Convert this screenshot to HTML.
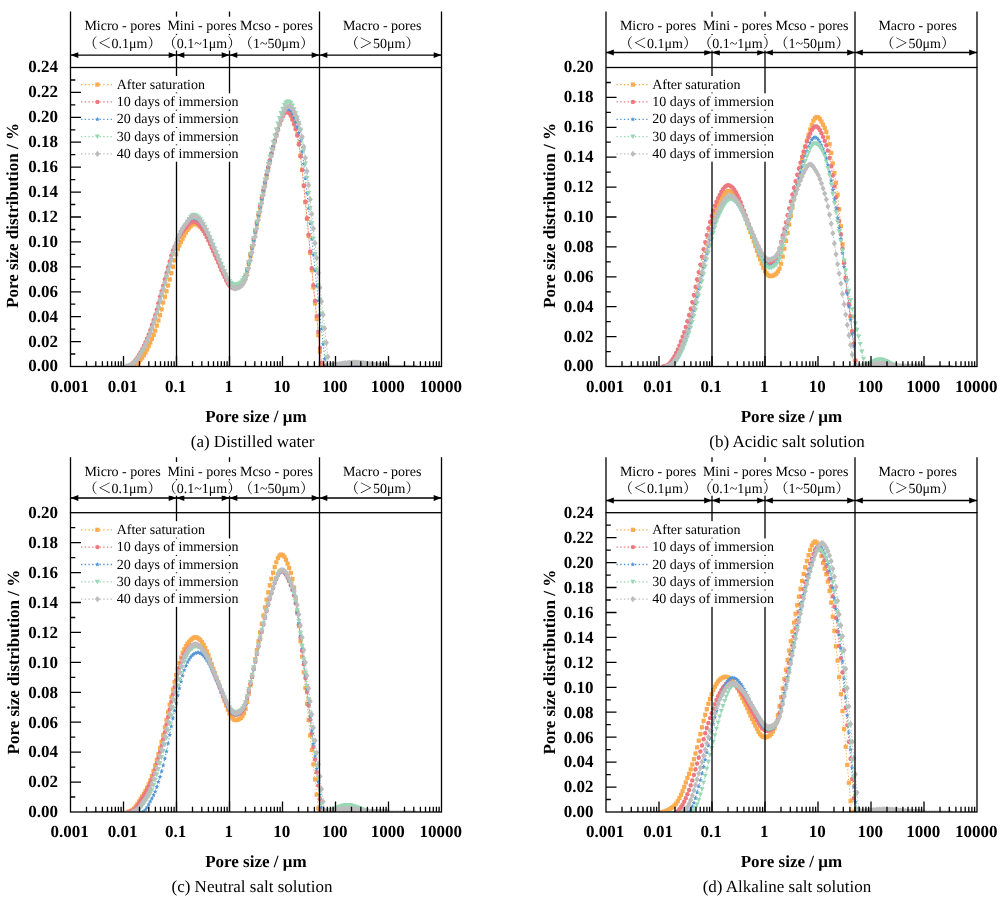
<!DOCTYPE html>
<html lang="en"><head><meta charset="utf-8"><title>Pore size distribution</title>
<style>html,body{margin:0;padding:0;background:#fff}svg{display:block}</style></head>
<body>
<svg width="1007" height="899" viewBox="0 0 1007 899" font-family="'Liberation Serif','Noto Serif CJK SC',serif" text-rendering="geometricPrecision">
<defs>
<marker id="mo" markerUnits="userSpaceOnUse" markerWidth="8" markerHeight="8" refX="4" refY="4" overflow="visible"><rect x="1.9" y="1.9" width="4.2" height="4.2" fill="#FAAC4E"/></marker>
<marker id="mr" markerUnits="userSpaceOnUse" markerWidth="8" markerHeight="8" refX="4" refY="4" overflow="visible"><circle cx="4" cy="4" r="2.2" fill="#EE7880"/></marker>
<marker id="mb" markerUnits="userSpaceOnUse" markerWidth="8" markerHeight="8" refX="4" refY="4" overflow="visible"><polygon points="4.00,1.50 4.65,3.11 6.38,3.23 5.05,4.34 5.47,6.02 4.00,5.10 2.53,6.02 2.95,4.34 1.62,3.23 3.35,3.11" fill="#5595D6"/></marker>
<marker id="mg" markerUnits="userSpaceOnUse" markerWidth="8" markerHeight="8" refX="4" refY="4" overflow="visible"><polygon points="1.4,1.9 6.6,1.9 4,6.5" fill="#99D8B5"/></marker>
<marker id="mk" markerUnits="userSpaceOnUse" markerWidth="8" markerHeight="8" refX="4" refY="4" overflow="visible"><polygon points="4,0.8 6.6,4 4,7.2 1.4,4" fill="#BDBDBD"/></marker>
<path id="ar" d="M0 0L7.8 -2.9L7.8 2.9Z"/>
<clipPath id="cpa"><rect x="70.5" y="67.5" width="371" height="299"/></clipPath>
<clipPath id="cpb"><rect x="606" y="67.5" width="371" height="299"/></clipPath>
<clipPath id="cpc"><rect x="70.5" y="512.7" width="371" height="299.3"/></clipPath>
<clipPath id="cpd"><rect x="606" y="512.7" width="371" height="299.3"/></clipPath>
</defs>
<rect width="1007" height="899" fill="#fff"/>
<g id="chart-a">
<g clip-path="url(#cpa)" fill="none" stroke-width="1" stroke-dasharray="1.3 1.9">
<polyline points="93.8,368.4 95.4,368.4 97,368.4 98.6,368.4 100.3,368.4 101.9,368.4 103.5,368.4 105.1,368.4 106.7,368.4 108.3,368.4 109.9,368.4 111.6,368.4 113.2,368.4 114.8,368.4 116.4,368.4 118,368.4 119.6,368.4 121.3,368.4 122.9,368.4 124.5,368.4 126.1,368.4 127.7,368.4 129.3,368.4 130.9,368.4 132.6,368.4 134.2,366.5 135.8,365.6 137.4,364.1 139,361.9 140.6,359.8 142.2,357.6 143.9,355.1 145.5,352.5 147.1,349.4 148.7,346.1 150.3,342.6 151.9,338.9 153.6,335 155.2,330.6 156.8,325.6 158.4,320.5 160,315.2 161.6,309.3 163.2,302.6 164.9,296.7 166.5,291.2 168.1,285.5 169.7,279.5 171.3,273.2 172.9,266.7 174.6,260.3 176.2,254.3 177.8,249.2 179.4,245.4 181,241.9 182.6,238.7 184.2,235.6 185.9,232.5 187.5,230 189.1,228 190.7,226.1 192.3,224.6 193.9,223.8 195.5,223.9 197.2,224.6 198.8,225.5 200.4,226.9 202,228.8 203.6,231 205.2,233.4 206.8,236.3 208.5,239.4 210.1,242.8 211.7,246.2 213.3,249.7 214.9,253.1 216.5,256.6 218.2,260.2 219.8,263.8 221.4,267.4 223,270.8 224.6,274 226.2,277.3 227.8,280.5 229.5,283.1 231.1,284.8 232.7,286 234.3,286.7 235.9,286.6 237.5,286.1 239.1,285.3 240.8,284.3 242.4,282.5 244,280 245.6,276.5 247.2,270.9 248.8,263.7 250.5,255.9 252.1,248.2 253.7,240.4 255.3,232.2 256.9,224 258.5,215.7 260.1,207.5 261.8,199.3 263.4,191.1 265,183.2 266.6,175.5 268.2,168 269.8,160.8 271.4,153.9 273.1,147.2 274.7,140.9 276.3,135 277.9,129.4 279.5,124.2 281.1,119.7 282.8,115.5 284.4,112.6 286,111 287.6,110.6 289.2,111.9 290.8,114.3 292.4,118.3 294.1,122.8 295.7,128 297.3,134.4 298.9,143.5 300.5,155.5 302.1,169.7 303.8,185.6 305.4,202.2 307,218.9 308.6,235.9 310.2,253 311.8,270.2 313.4,287.4 315.1,303.4 316.7,318.8 318.3,335.1 319.9,351.6 321.5,364.9 323.1,366.3 324.7,366.2 326.4,366.2 328,366.1 329.6,366 331.2,365.9 332.8,365.8 334.4,365.6 336.1,365.5 337.7,365.4 339.3,365.3 340.9,365.1 342.5,365 344.1,364.9 345.7,364.8 347.4,364.7 349,364.7 350.6,364.6 352.2,364.6 353.8,364.6 355.4,364.7 357,364.7 358.7,364.8 360.3,364.9 361.9,365 363.5,365.2 365.1,365.3 366.7,365.4 368.4,365.6 370,365.7 371.6,365.8 373.2,365.9 374.8,366 376.4,366.1 378,366.2 379.7,366.2 381.3,366.3 382.9,366.3 384.5,366.4 386.1,366.4 387.7,366.4 389.3,367.7 391,367.8 392.6,367.8 394.2,367.8 395.8,367.8 397.4,367.8 399,367.8 400.7,367.8 402.3,367.8 403.9,367.8 405.5,367.8 407.1,367.8 408.7,367.8 410.3,367.8 412,367.8 413.6,367.8 415.2,367.8" stroke="#FAAC4E" marker-start="url(#mo)" marker-mid="url(#mo)" marker-end="url(#mo)"/>
<polyline points="93.8,368.4 95.4,368.4 97,368.4 98.6,368.4 100.3,368.4 101.9,368.4 103.5,368.4 105.1,368.4 106.7,368.4 108.3,368.4 109.9,368.4 111.6,368.4 113.2,368.4 114.8,368.4 116.4,368.4 118,368.4 119.6,368.4 121.3,368.4 122.9,368.4 124.5,368.4 126.1,366.5 127.7,366.1 129.3,365.4 130.9,364.6 132.6,363.3 134.2,361.7 135.8,359.8 137.4,357.5 139,354.9 140.6,352.2 142.2,349.1 143.9,345.8 145.5,342.2 147.1,338.6 148.7,334.6 150.3,330.1 151.9,325 153.6,320.1 155.2,315.1 156.8,309.7 158.4,303.2 160,296.6 161.6,291.1 163.2,285.6 164.9,279.2 166.5,272.9 168.1,267.2 169.7,261.5 171.3,255.5 172.9,250.5 174.6,246.7 176.2,243.3 177.8,239.8 179.4,236.7 181,234 182.6,231.6 184.2,229.5 185.9,227.7 187.5,225.8 189.1,224 190.7,222.6 192.3,221.7 193.9,221.6 195.5,222.1 197.2,223 198.8,224.3 200.4,226.2 202,228.4 203.6,230.9 205.2,233.7 206.8,237 208.5,240.5 210.1,244.1 211.7,247.8 213.3,251.4 214.9,255 216.5,258.8 218.2,262.6 219.8,266.5 221.4,270.2 223,273.7 224.6,277.1 226.2,280.5 227.8,283.5 229.5,285.7 231.1,287.1 232.7,288.1 234.3,288.3 235.9,287.9 237.5,287.3 239.1,286.4 240.8,285 242.4,282.8 244,280 245.6,275.5 247.2,269.1 248.8,261.6 250.5,253.8 252.1,246.3 253.7,238.4 255.3,230.3 256.9,222.2 258.5,214 260.1,205.9 261.8,197.8 263.4,189.8 265,182.1 266.6,174.5 268.2,167.2 269.8,160.2 271.4,153.4 273.1,146.8 274.7,140.8 276.3,135 277.9,129.6 279.5,124.6 281.1,120.2 282.8,116.2 284.4,113.6 286,112.1 287.6,112 289.2,113.3 290.8,115.8 292.4,119.8 294.1,124.2 295.7,129.3 297.3,135.6 298.9,144.5 300.5,156.3 302.1,170.1 303.8,185.7 305.4,201.8 307,218.2 308.6,234.7 310.2,251.5 311.8,268.3 313.4,285.2 315.1,301 316.7,316.1 318.3,331.8 319.9,348 321.5,362.6 323.1,366.3 324.7,366.2 326.4,366.2 328,366.1 329.6,366 331.2,365.9 332.8,365.8 334.4,365.6 336.1,365.5 337.7,365.4 339.3,365.3 340.9,365.1 342.5,365 344.1,364.9 345.7,364.8 347.4,364.7 349,364.7 350.6,364.6 352.2,364.6 353.8,364.6 355.4,364.7 357,364.7 358.7,364.8 360.3,364.9 361.9,365 363.5,365.2 365.1,365.3 366.7,365.4 368.4,365.6 370,365.7 371.6,365.8 373.2,365.9 374.8,366 376.4,366.1 378,366.2 379.7,366.2 381.3,366.3 382.9,366.3 384.5,366.4 386.1,366.4 387.7,366.4 389.3,367.7 391,367.8 392.6,367.8 394.2,367.8 395.8,367.8 397.4,367.8 399,367.8 400.7,367.8 402.3,367.8 403.9,367.8 405.5,367.8 407.1,367.8 408.7,367.8 410.3,367.8 412,367.8 413.6,367.8 415.2,367.8" stroke="#EE7880" marker-start="url(#mr)" marker-mid="url(#mr)" marker-end="url(#mr)"/>
<polyline points="93.8,368.4 95.4,368.4 97,368.4 98.6,368.4 100.3,368.4 101.9,368.4 103.5,368.4 105.1,368.4 106.7,368.4 108.3,368.4 109.9,368.4 111.6,368.4 113.2,368.4 114.8,368.4 116.4,368.4 118,368.4 119.6,368.4 121.3,368.4 122.9,368.4 124.5,368.4 126.1,366.5 127.7,366.4 129.3,365.9 130.9,365.2 132.6,364.2 134.2,362.8 135.8,361.2 137.4,359.1 139,356.7 140.6,354.1 142.2,351.3 143.9,348.1 145.5,344.6 147.1,341.1 148.7,337.3 150.3,333.2 151.9,328.5 153.6,323.4 155.2,318.5 156.8,313.5 158.4,307.7 160,301 161.6,294.8 163.2,289.4 164.9,283.6 166.5,277 168.1,271 169.7,265.4 171.3,259.6 172.9,253.9 174.6,248.7 176.2,244 177.8,239.6 179.4,235.3 181,231.9 182.6,228.9 184.2,226.3 185.9,224.4 187.5,222.5 189.1,220.8 190.7,219.4 192.3,218.4 193.9,218.3 195.5,218.8 197.2,219.6 198.8,220.8 200.4,222.6 202,224.8 203.6,227.2 205.2,230 206.8,233.1 208.5,236.6 210.1,240.2 211.7,243.9 213.3,247.6 214.9,251.2 216.5,254.9 218.2,258.7 219.8,262.6 221.4,266.4 223,270 224.6,273.4 226.2,276.9 227.8,280.2 229.5,282.9 231.1,284.6 232.7,285.9 234.3,286.7 235.9,286.6 237.5,286.1 239.1,285.3 240.8,284.3 242.4,282.5 244,280.1 245.6,276.7 247.2,271.2 248.8,264.1 250.5,256.3 252.1,248.6 253.7,240.8 255.3,232.6 256.9,224.4 258.5,216.1 260.1,207.9 261.8,199.7 263.4,191.5 265,183.5 266.6,175.8 268.2,168.2 269.8,160.9 271.4,153.9 273.1,147.2 274.7,140.8 276.3,134.8 277.9,129.1 279.5,123.8 281.1,119.2 282.8,114.9 284.4,111.4 286,109.5 287.6,108.6 289.2,109.4 290.8,111 292.4,113.9 294.1,117.8 295.7,122 297.3,126.9 298.9,132.8 300.5,140.9 302.1,151.6 303.8,164 305.4,178.3 307,193.1 308.6,208.3 310.2,223.6 311.8,239.1 313.4,254.7 315.1,270.4 316.7,286 318.3,300.6 319.9,314.6 321.5,329.1 323.1,344.2 324.7,358.9 326.4,366 328,365.9 329.6,365.8 331.2,365.7 332.8,365.5 334.4,365.4 336.1,365.2 337.7,365 339.3,364.9 340.9,364.7 342.5,364.5 344.1,364.4 345.7,364.2 347.4,364.1 349,364.1 350.6,364 352.2,364 353.8,364 355.4,364.1 357,364.2 358.7,364.3 360.3,364.4 361.9,364.6 363.5,364.7 365.1,364.9 366.7,365.1 368.4,365.2 370,365.4 371.6,365.6 373.2,365.7 374.8,365.8 376.4,366 378,366.1 379.7,366.1 381.3,366.2 382.9,366.3 384.5,366.3 386.1,366.4 387.7,366.4 389.3,367.7 391,367.7 392.6,367.8 394.2,367.8 395.8,367.8 397.4,367.8 399,367.8 400.7,367.8 402.3,367.8 403.9,367.8 405.5,367.8 407.1,367.8 408.7,367.8 410.3,367.8 412,367.8 413.6,367.8 415.2,367.8" stroke="#5595D6" marker-start="url(#mb)" marker-mid="url(#mb)" marker-end="url(#mb)"/>
<polyline points="93.8,368.4 95.4,368.4 97,368.4 98.6,368.4 100.3,368.4 101.9,368.4 103.5,368.4 105.1,368.4 106.7,368.4 108.3,368.4 109.9,368.4 111.6,368.4 113.2,368.4 114.8,368.4 116.4,368.4 118,368.4 119.6,368.4 121.3,368.4 122.9,368.4 124.5,368.4 126.1,368.4 127.7,366.5 129.3,366 130.9,365.3 132.6,364.4 134.2,363 135.8,361.4 137.4,359.4 139,357 140.6,354.4 142.2,351.6 143.9,348.5 145.5,345.1 147.1,341.5 148.7,337.8 150.3,333.8 151.9,329.1 153.6,324.1 155.2,319.1 156.8,314.1 158.4,308.5 160,301.9 161.6,295.5 163.2,290 164.9,284.4 166.5,277.9 168.1,271.7 169.7,266.1 171.3,260.4 172.9,254.6 174.6,249.3 176.2,244.6 177.8,240.1 179.4,235.8 181,232.3 182.6,229.4 184.2,226.8 185.9,224.5 187.5,221.9 189.1,219.2 190.7,216.9 192.3,215.3 193.9,214.9 195.5,215.4 197.2,216.3 198.8,217.5 200.4,219.3 202,221.6 203.6,224.1 205.2,226.9 206.8,230.1 208.5,233.6 210.1,237.3 211.7,241.1 213.3,244.9 214.9,248.6 216.5,252.4 218.2,256.3 219.8,260.3 221.4,264.2 223,267.9 224.6,271.3 226.2,274.9 227.8,278.3 229.5,281.1 231.1,282.9 232.7,284.2 234.3,285 235.9,284.9 237.5,284.3 239.1,283.6 240.8,282.5 242.4,280.7 244,278.2 245.6,274.9 247.2,269.3 248.8,262.2 250.5,254.2 252.1,246.3 253.7,238.4 255.3,230 256.9,221.6 258.5,213.2 260.1,204.7 261.8,196.3 263.4,187.9 265,179.7 266.6,171.8 268.2,164.1 269.8,156.5 271.4,149.3 273.1,142.4 274.7,135.7 276.3,129.6 277.9,123.7 279.5,118.2 281.1,113.2 282.8,108.8 284.4,104.9 286,102.7 287.6,101.5 289.2,101.9 290.8,103.2 292.4,105.6 294.1,109.3 295.7,113.3 297.3,117.8 298.9,123.1 300.5,129.8 302.1,139.2 303.8,150.5 305.4,163.7 307,178.1 308.6,193 310.2,208 311.8,223.3 313.4,238.7 315.1,254.1 316.7,269.7 318.3,285.2 319.9,299.6 321.5,313.5 323.1,327.8 324.7,342.8 326.4,357.4 328,365.9 329.6,365.8 331.2,365.6 332.8,365.4 334.4,365.2 336.1,365 337.7,364.8 339.3,364.5 340.9,364.3 342.5,364 344.1,363.7 345.7,363.5 347.4,363.3 349,363.1 350.6,362.9 352.2,362.8 353.8,362.8 355.4,362.8 357,362.8 358.7,362.9 360.3,363 361.9,363.2 363.5,363.4 365.1,363.6 366.7,363.9 368.4,364.1 370,364.4 371.6,364.6 373.2,364.9 374.8,365.1 376.4,365.3 378,365.5 379.7,365.7 381.3,365.9 382.9,366 384.5,366.1 386.1,366.2 387.7,366.3 389.3,367.6 391,367.7 392.6,367.7 394.2,367.7 395.8,367.7 397.4,367.8 399,367.8 400.7,367.8 402.3,367.8 403.9,367.8 405.5,367.8 407.1,367.8 408.7,367.8 410.3,367.8 412,367.8 413.6,367.8 415.2,367.8" stroke="#99D8B5" marker-start="url(#mg)" marker-mid="url(#mg)" marker-end="url(#mg)"/>
<polyline points="93.8,368.4 95.4,368.4 97,368.4 98.6,368.4 100.3,368.4 101.9,368.4 103.5,368.4 105.1,368.4 106.7,368.4 108.3,368.4 109.9,368.4 111.6,368.4 113.2,368.4 114.8,368.4 116.4,368.4 118,368.4 119.6,368.4 121.3,368.4 122.9,368.4 124.5,368.4 126.1,366.5 127.7,366.4 129.3,365.8 130.9,365 132.6,364 134.2,362.5 135.8,360.8 137.4,358.7 139,356.2 140.6,353.6 142.2,350.7 143.9,347.4 145.5,344 147.1,340.4 148.7,336.6 150.3,332.4 151.9,327.6 153.6,322.5 155.2,317.6 156.8,312.5 158.4,306.5 160,299.8 161.6,293.8 163.2,288.4 164.9,282.4 166.5,275.9 168.1,270 169.7,264.3 171.3,258.6 172.9,252.9 174.6,247.8 176.2,243.2 177.8,238.7 179.4,234.6 181,231.3 182.6,228.5 184.2,226 185.9,223.9 187.5,221.7 189.1,219.6 190.7,217.9 192.3,216.8 193.9,216.5 195.5,217.1 197.2,217.9 198.8,219.1 200.4,221 202,223.2 203.6,225.7 205.2,228.5 206.8,231.8 208.5,235.3 210.1,239 211.7,242.9 213.3,246.7 214.9,250.5 216.5,254.3 218.2,258.2 219.8,262.2 221.4,266.2 223,270 224.6,273.5 226.2,277.1 227.8,280.7 229.5,283.7 231.1,285.7 232.7,287.2 234.3,288.2 235.9,288.3 237.5,287.9 239.1,287.2 240.8,286.3 242.4,284.8 244,282.5 245.6,279.6 247.2,274.9 248.8,268.2 250.5,260.5 252.1,252.6 253.7,244.9 255.3,236.7 256.9,228.4 258.5,220 260.1,211.7 261.8,203.3 263.4,195 265,186.8 266.6,178.8 268.2,171.1 269.8,163.6 271.4,156.3 273.1,149.3 274.7,142.6 276.3,136.3 277.9,130.4 279.5,124.7 281.1,119.6 282.8,115.1 284.4,110.9 286,108 287.6,106.4 289.2,106 290.8,107 292.4,108.6 294.1,111.7 295.7,115.4 297.3,119.4 298.9,124 300.5,129.6 302.1,136.8 303.8,146.7 305.4,157.9 307,171.2 308.6,185 310.2,199.4 311.8,213.9 313.4,228.5 315.1,243.2 316.7,258 318.3,273 319.9,287.7 321.5,301.4 323.1,314.7 324.7,328.4 326.4,342.7 328,356.8 329.6,365.4 331.2,365.3 332.8,365.1 334.4,364.9 336.1,364.6 337.7,364.4 339.3,364.2 340.9,364 342.5,363.7 344.1,363.5 345.7,363.3 347.4,363.2 349,363 350.6,362.9 352.2,362.8 353.8,362.8 355.4,362.8 357,362.8 358.7,362.9 360.3,363 361.9,363.1 363.5,363.3 365.1,363.4 366.7,363.6 368.4,363.9 370,364.1 371.6,364.3 373.2,364.5 374.8,364.8 376.4,365 378,365.2 379.7,365.4 381.3,365.5 382.9,365.7 384.5,365.8 386.1,365.9 387.7,366 389.3,367.4 391,367.5 392.6,367.6 394.2,367.6 395.8,367.7 397.4,367.7 399,367.7 400.7,367.7 402.3,367.8 403.9,367.8 405.5,367.8 407.1,367.8 408.7,367.8 410.3,367.8 412,367.8 413.6,367.8 415.2,367.8" stroke="#BDBDBD" marker-start="url(#mk)" marker-mid="url(#mk)" marker-end="url(#mk)"/>
</g>
<g stroke="#000" stroke-width="1.3" fill="none">
<rect x="70.5" y="67.5" width="371" height="299"/>
<path d="M123.5 366.5v-10.5M176.5 366.5v-10.5M229.5 366.5v-10.5M282.5 366.5v-10.5M335.5 366.5v-10.5M388.5 366.5v-10.5M86.5 366.5v-5.3M95.8 366.5v-5.3M102.4 366.5v-5.3M107.5 366.5v-5.3M111.7 366.5v-5.3M115.3 366.5v-5.3M118.4 366.5v-5.3M121.1 366.5v-5.3M139.5 366.5v-5.3M148.8 366.5v-5.3M155.4 366.5v-5.3M160.5 366.5v-5.3M164.7 366.5v-5.3M168.3 366.5v-5.3M171.4 366.5v-5.3M174.1 366.5v-5.3M192.5 366.5v-5.3M201.8 366.5v-5.3M208.4 366.5v-5.3M213.5 366.5v-5.3M217.7 366.5v-5.3M221.3 366.5v-5.3M224.4 366.5v-5.3M227.1 366.5v-5.3M245.5 366.5v-5.3M254.8 366.5v-5.3M261.4 366.5v-5.3M266.5 366.5v-5.3M270.7 366.5v-5.3M274.3 366.5v-5.3M277.4 366.5v-5.3M280.1 366.5v-5.3M298.5 366.5v-5.3M307.8 366.5v-5.3M314.4 366.5v-5.3M319.5 366.5v-5.3M323.7 366.5v-5.3M327.3 366.5v-5.3M330.4 366.5v-5.3M333.1 366.5v-5.3M351.5 366.5v-5.3M360.8 366.5v-5.3M367.4 366.5v-5.3M372.5 366.5v-5.3M376.7 366.5v-5.3M380.3 366.5v-5.3M383.4 366.5v-5.3M386.1 366.5v-5.3M404.5 366.5v-5.3M413.8 366.5v-5.3M420.4 366.5v-5.3M425.5 366.5v-5.3M429.7 366.5v-5.3M433.3 366.5v-5.3M436.4 366.5v-5.3M439.1 366.5v-5.3M70.5 354h4.8M70.5 341.6h10.5M70.5 329.1h4.8M70.5 316.7h10.5M70.5 304.2h4.8M70.5 291.8h10.5M70.5 279.3h4.8M70.5 266.8h10.5M70.5 254.4h4.8M70.5 241.9h10.5M70.5 229.5h4.8M70.5 217h10.5M70.5 204.5h4.8M70.5 192.1h10.5M70.5 179.6h4.8M70.5 167.2h10.5M70.5 154.7h4.8M70.5 142.2h10.5M70.5 129.8h4.8M70.5 117.3h10.5M70.5 104.9h4.8M70.5 92.4h10.5M70.5 80h4.8"/>
</g>
<g stroke="#000" stroke-width="1.3">
<line x1="70.5" y1="11.5" x2="70.5" y2="67.5"/>
<line x1="176.5" y1="11.5" x2="176.5" y2="366.5"/>
<line x1="229.5" y1="11.5" x2="229.5" y2="366.5"/>
<line x1="319.5" y1="11.5" x2="319.5" y2="366.5"/>
<line x1="441.5" y1="11.5" x2="441.5" y2="67.5"/>
<line x1="70.5" y1="55.1" x2="441.5" y2="55.1"/>
</g>
<use href="#ar" x="70.5" y="55.1"/>
<use href="#ar" transform="translate(176.5 55.1) scale(-1 1)"/>
<use href="#ar" x="176.5" y="55.1"/>
<use href="#ar" transform="translate(229.5 55.1) scale(-1 1)"/>
<use href="#ar" x="229.5" y="55.1"/>
<use href="#ar" transform="translate(319.5 55.1) scale(-1 1)"/>
<use href="#ar" x="319.5" y="55.1"/>
<use href="#ar" transform="translate(441.5 55.1) scale(-1 1)"/>
<rect x="84.2" y="16.7" width="76.5" height="17.2" fill="#fff"/>
<rect x="90.2" y="35.1" width="64.5" height="15.4" fill="#fff"/>
<text x="122.5" y="30.3" font-size="14" text-anchor="middle">Micro - pores</text>
<text x="122.5" y="47.6" font-size="14" text-anchor="middle">（＜0.1μm）</text>
<rect x="167.2" y="16.7" width="69.6" height="17.2" fill="#fff"/>
<rect x="168.2" y="35.1" width="67.6" height="15.4" fill="#fff"/>
<text x="202" y="30.3" font-size="14" text-anchor="middle">Mini - pores</text>
<text x="202" y="47.6" font-size="14" text-anchor="middle">（0.1~1μm）</text>
<rect x="239.5" y="16.7" width="74" height="17.2" fill="#fff"/>
<rect x="243" y="35.1" width="67" height="15.4" fill="#fff"/>
<text x="276.5" y="30.3" font-size="14" text-anchor="middle">Mcso - pores</text>
<text x="276.5" y="47.6" font-size="14" text-anchor="middle">（1~50μm）</text>
<rect x="342.2" y="16.7" width="80" height="17.2" fill="#fff"/>
<rect x="350" y="35.1" width="64.5" height="15.4" fill="#fff"/>
<text x="382.2" y="30.3" font-size="14" text-anchor="middle">Macro - pores</text>
<text x="382.2" y="47.6" font-size="14" text-anchor="middle">（＞50μm）</text>
<rect x="116.2" y="76" width="89" height="16.4" fill="#fff"/>
<polyline points="81,84.6 97.4,84.6 112.5,84.6" fill="none" stroke="#FAAC4E" stroke-width="1.3" stroke-dasharray="1.4 2.3" marker-mid="url(#mo)"/>
<text x="116.7" y="88.7" font-size="14">After saturation</text>
<rect x="116.2" y="93.3" width="121" height="16.4" fill="#fff"/>
<polyline points="81,101.9 97.4,101.9 112.5,101.9" fill="none" stroke="#EE7880" stroke-width="1.3" stroke-dasharray="1.4 2.3" marker-mid="url(#mr)"/>
<text x="116.7" y="106" font-size="14">10 days of immersion</text>
<rect x="116.2" y="110.7" width="121" height="16.4" fill="#fff"/>
<polyline points="81,119.3 97.4,119.3 112.5,119.3" fill="none" stroke="#5595D6" stroke-width="1.3" stroke-dasharray="1.4 2.3" marker-mid="url(#mb)"/>
<text x="116.7" y="123.4" font-size="14">20 days of immersion</text>
<rect x="116.2" y="128" width="121" height="16.4" fill="#fff"/>
<polyline points="81,136.6 97.4,136.6 112.5,136.6" fill="none" stroke="#99D8B5" stroke-width="1.3" stroke-dasharray="1.4 2.3" marker-mid="url(#mg)"/>
<text x="116.7" y="140.7" font-size="14">30 days of immersion</text>
<rect x="116.2" y="145.3" width="121" height="16.4" fill="#fff"/>
<polyline points="81,153.9 97.4,153.9 112.5,153.9" fill="none" stroke="#BDBDBD" stroke-width="1.3" stroke-dasharray="1.4 2.3" marker-mid="url(#mk)"/>
<text x="116.7" y="158" font-size="14">40 days of immersion</text>
<g font-size="17" font-weight="bold" text-anchor="end">
<text x="58" y="371.4">0.00</text>
<text x="58" y="346.5">0.02</text>
<text x="58" y="321.6">0.04</text>
<text x="58" y="296.6">0.06</text>
<text x="58" y="271.7">0.08</text>
<text x="58" y="246.8">0.10</text>
<text x="58" y="221.9">0.12</text>
<text x="58" y="197">0.14</text>
<text x="58" y="172.1">0.16</text>
<text x="58" y="147.1">0.18</text>
<text x="58" y="122.2">0.20</text>
<text x="58" y="97.3">0.22</text>
<text x="58" y="72.4">0.24</text>
</g>
<g font-size="17" font-weight="bold" text-anchor="middle">
<text x="69.7" y="391.7">0.001</text>
<text x="122.7" y="391.7">0.01</text>
<text x="175.7" y="391.7">0.1</text>
<text x="228.7" y="391.7">1</text>
<text x="281.7" y="391.7">10</text>
<text x="334.7" y="391.7">100</text>
<text x="387.7" y="391.7">1000</text>
<text x="440.7" y="391.7">10000</text>
</g>
<text x="255.9" y="421.7" font-size="17" font-weight="bold" text-anchor="middle">Pore size / μm</text>
<text transform="translate(18.2 215.5) rotate(-90)" font-size="17" font-weight="bold" text-anchor="middle">Pore size distribution / %</text>
<text x="252.6" y="446.7" font-size="17" text-anchor="middle">(a) Distilled water</text>
</g>
<g id="chart-b">
<g clip-path="url(#cpb)" fill="none" stroke-width="1" stroke-dasharray="1.3 1.9">
<polyline points="629.3,368.4 630.9,368.4 632.5,368.4 634.1,368.4 635.8,368.4 637.4,368.4 639,368.4 640.6,368.4 642.2,368.4 643.8,368.4 645.4,368.4 647.1,368.4 648.7,368.4 650.3,368.4 651.9,368.4 653.5,368.4 655.1,368.4 656.8,368.4 658.4,368.4 660,368.4 661.6,368.4 663.2,368.4 664.8,366.5 666.4,366.4 668.1,365.8 669.7,365 671.3,363.7 672.9,361.7 674.5,359.5 676.1,356.7 677.8,353.6 679.4,350.1 681,346.2 682.6,342 684.2,337.5 685.8,332.9 687.4,327.8 689.1,322.1 690.7,315.9 692.3,309.6 693.9,303 695.5,295.6 697.1,287.7 698.7,280.3 700.4,273.2 702,265.5 703.6,257.8 705.2,250.6 706.8,243.6 708.4,236.7 710,230.1 711.7,223.9 713.3,218.3 714.9,213.1 716.5,208.8 718.1,205.1 719.7,201.7 721.4,198.7 723,195.8 724.6,193.6 726.2,192.1 727.8,191.1 729.4,191 731,191.8 732.7,193 734.3,194.6 735.9,197 737.5,199.8 739.1,202.8 740.7,206.2 742.3,210.2 744,214.4 745.6,218.8 747.2,223.4 748.8,227.9 750.4,232.2 752,236.8 753.7,241.4 755.3,246.2 756.9,250.8 758.5,255.2 760.1,259.3 761.7,263.6 763.3,267.7 765,271.1 766.6,273.3 768.2,275 769.8,276 771.4,276.1 773,275.6 774.6,274.8 776.3,273.6 777.9,271.5 779.5,268.6 781.1,263.7 782.7,256.7 784.3,248.7 786,241 787.6,232.9 789.2,224.5 790.8,216.1 792.4,207.7 794,199.3 795.6,191 797.3,182.9 798.9,175.1 800.5,167.5 802.1,160.2 803.7,153.2 805.3,146.6 806.9,140.5 808.6,134.7 810.2,129.4 811.8,124.8 813.4,120.7 815,118.3 816.6,117 818.3,117.4 819.9,119.1 821.5,121.6 823.1,124.6 824.7,127.9 826.3,132 827.9,137.5 829.6,144.2 831.2,153 832.8,163.4 834.4,173 836,182.6 837.6,194.7 839.2,209.3 840.9,226.3 842.5,244.3 844.1,262 845.7,277.8 847.3,291.5 848.9,304.2 850.6,316.5 852.2,331.5 853.8,344 855.4,360.6 857,366.5 858.6,366.5 860.2,366.4 861.9,366.4 863.5,366.3 865.1,366.2 866.7,366.1 868.3,366 869.9,365.8 871.5,365.6 873.2,365.5 874.8,365.3 876.4,365.1 878,365.1 879.6,365 881.2,365 882.9,365.1 884.5,365.2 886.1,365.4 887.7,365.6 889.3,365.7 890.9,365.9 892.5,366.1 894.2,366.2 895.8,366.3 897.4,366.4 899,366.4 900.6,366.4 902.2,366.5 903.8,366.5 905.5,366.5 907.1,366.5 908.7,366.5 910.3,366.5 911.9,366.5 913.5,366.5 915.2,366.5 916.8,366.5 918.4,366.5 920,366.5 921.6,366.5 923.2,366.5 924.8,367.8 926.5,367.8 928.1,367.8 929.7,367.8 931.3,367.8 932.9,367.8 934.5,367.8 936.1,367.8 937.8,367.8 939.4,367.8 941,367.8 942.6,367.8 944.2,367.8 945.8,367.8 947.5,367.8 949.1,367.8 950.7,367.8" stroke="#FAAC4E" marker-start="url(#mo)" marker-mid="url(#mo)" marker-end="url(#mo)"/>
<polyline points="629.3,368.4 630.9,368.4 632.5,368.4 634.1,368.4 635.8,368.4 637.4,368.4 639,368.4 640.6,368.4 642.2,368.4 643.8,368.4 645.4,368.4 647.1,368.4 648.7,368.4 650.3,368.4 651.9,368.4 653.5,368.4 655.1,368.4 656.8,368.4 658.4,368.4 660,368.4 661.6,368.4 663.2,366.5 664.8,366.3 666.4,365.7 668.1,364.8 669.7,363.3 671.3,361.3 672.9,359 674.5,356.2 676.1,352.9 677.8,349.5 679.4,345.5 681,341.2 682.6,336.7 684.2,332.1 685.8,327 687.4,321.3 689.1,315 690.7,308.7 692.3,302.1 693.9,294.9 695.5,286.9 697.1,279.3 698.7,272.1 700.4,264.6 702,256.6 703.6,249.2 705.2,242.1 706.8,235.1 708.4,228.3 710,221.9 711.7,215.9 713.3,210.5 714.9,205.7 716.5,201.7 718.1,198.1 719.7,194.9 721.4,191.8 723,189.1 724.6,187.3 726.2,185.9 727.8,185.1 729.4,185.4 731,186.4 732.7,187.6 734.3,189.7 735.9,192.3 737.5,195.2 739.1,198.5 740.7,202.3 742.3,206.4 744,210.8 745.6,215.2 747.2,219.6 748.8,224 750.4,228.5 752,233.1 753.7,237.7 755.3,242.2 756.9,246.3 758.5,250.4 760.1,254.6 761.7,258.1 763.3,260.5 765,262.1 766.6,263.2 768.2,263.2 769.8,262.8 771.4,262.2 773,261.2 774.6,259.6 776.3,257.4 777.9,253.8 779.5,248.4 781.1,242 782.7,235.5 784.3,229 786,222.2 787.6,215.3 789.2,208.4 790.8,201.4 792.4,194.5 794,187.7 795.6,181.1 797.3,174.7 798.9,168.5 800.5,162.6 802.1,156.8 803.7,151.4 805.3,146.4 806.9,141.6 808.6,137.2 810.2,133.4 811.8,129.9 813.4,127.7 815,126.4 816.6,126.5 818.3,127.8 819.9,130.1 821.5,133.2 823.1,136.9 824.7,140.9 826.3,145.2 827.9,150.6 829.6,157.9 831.2,166.4 832.8,175.6 834.4,186.4 836,197.4 837.6,208.6 839.2,220.9 840.9,234.3 842.5,248.5 844.1,263.2 845.7,277.9 847.3,291.4 848.9,304.2 850.6,316.5 852.2,331.5 853.8,344 855.4,360.6 857,366.5 858.6,366.5 860.2,366.4 861.9,366.4 863.5,366.3 865.1,366.2 866.7,366.1 868.3,366 869.9,365.8 871.5,365.6 873.2,365.5 874.8,365.3 876.4,365.1 878,365.1 879.6,365 881.2,365 882.9,365.1 884.5,365.2 886.1,365.4 887.7,365.6 889.3,365.7 890.9,365.9 892.5,366.1 894.2,366.2 895.8,366.3 897.4,366.4 899,366.4 900.6,366.4 902.2,366.5 903.8,366.5 905.5,366.5 907.1,366.5 908.7,366.5 910.3,366.5 911.9,366.5 913.5,366.5 915.2,366.5 916.8,366.5 918.4,366.5 920,366.5 921.6,366.5 923.2,366.5 924.8,367.8 926.5,367.8 928.1,367.8 929.7,367.8 931.3,367.8 932.9,367.8 934.5,367.8 936.1,367.8 937.8,367.8 939.4,367.8 941,367.8 942.6,367.8 944.2,367.8 945.8,367.8 947.5,367.8 949.1,367.8 950.7,367.8" stroke="#EE7880" marker-start="url(#mr)" marker-mid="url(#mr)" marker-end="url(#mr)"/>
<polyline points="629.3,368.4 630.9,368.4 632.5,368.4 634.1,368.4 635.8,368.4 637.4,368.4 639,368.4 640.6,368.4 642.2,368.4 643.8,368.4 645.4,368.4 647.1,368.4 648.7,368.4 650.3,368.4 651.9,368.4 653.5,368.4 655.1,368.4 656.8,368.4 658.4,368.4 660,368.4 661.6,368.4 663.2,368.4 664.8,368.4 666.4,366.5 668.1,366.4 669.7,365.8 671.3,365 672.9,363.6 674.5,361.7 676.1,359.5 677.8,356.7 679.4,353.6 681,350.3 682.6,346.4 684.2,342.2 685.8,337.9 687.4,333.4 689.1,328.3 690.7,322.7 692.3,316.7 693.9,310.5 695.5,304 697.1,296.7 698.7,289 700.4,282 702,275 703.6,267.4 705.2,260.1 706.8,253.2 708.4,246.4 710,239.8 711.7,233.5 713.3,227.7 714.9,222.4 716.5,217.6 718.1,213.6 719.7,210.1 721.4,207 723,204.1 724.6,201.5 726.2,199.7 727.8,198.4 729.4,197.6 731,198 732.7,198.8 734.3,199.9 735.9,201.6 737.5,203.8 739.1,206.3 740.7,209.1 742.3,212.3 744,215.8 745.6,219.5 747.2,223.3 748.8,227.1 750.4,230.8 752,234.6 753.7,238.5 755.3,242.5 756.9,246.4 758.5,250.1 760.1,253.5 761.7,257.1 763.3,260.4 765,263 766.6,264.6 768.2,265.8 769.8,266.3 771.4,266 773,265.5 774.6,264.7 776.3,263.2 777.9,261.1 779.5,257.8 781.1,252.4 782.7,245.9 784.3,239.3 786,232.8 787.6,225.8 789.2,218.8 790.8,211.8 792.4,204.9 794,197.9 795.6,191.1 797.3,184.6 798.9,178.3 800.5,172.2 802.1,166.4 803.7,160.9 805.3,155.8 806.9,151 808.6,146.7 810.2,142.9 811.8,139.7 813.4,137.9 815,137.1 816.6,137.9 818.3,139.7 819.9,142.2 821.5,145.3 823.1,148.7 824.7,152.6 826.3,158.3 827.9,164.9 829.6,172.1 831.2,180.6 832.8,189.8 834.4,198.9 836,208.2 837.6,217.8 839.2,227.8 840.9,239 842.5,252.9 844.1,266.9 845.7,280.6 847.3,293.7 848.9,306.7 850.6,319.9 852.2,334 853.8,346.5 855.4,363.9 857,366.5 858.6,366.4 860.2,366.4 861.9,366.3 863.5,366.1 865.1,366 866.7,365.7 868.3,365.5 869.9,365.1 871.5,364.8 873.2,364.4 874.8,364.1 876.4,363.8 878,363.6 879.6,363.5 881.2,363.5 882.9,363.7 884.5,363.9 886.1,364.3 887.7,364.6 889.3,365 890.9,365.3 892.5,365.6 894.2,365.9 895.8,366.1 897.4,366.2 899,366.3 900.6,366.4 902.2,366.4 903.8,366.5 905.5,366.5 907.1,366.5 908.7,366.5 910.3,366.5 911.9,366.5 913.5,366.5 915.2,366.5 916.8,366.5 918.4,366.5 920,366.5 921.6,366.5 923.2,366.5 924.8,367.8 926.5,367.8 928.1,367.8 929.7,367.8 931.3,367.8 932.9,367.8 934.5,367.8 936.1,367.8 937.8,367.8 939.4,367.8 941,367.8 942.6,367.8 944.2,367.8 945.8,367.8 947.5,367.8 949.1,367.8 950.7,367.8" stroke="#5595D6" marker-start="url(#mb)" marker-mid="url(#mb)" marker-end="url(#mb)"/>
<polyline points="629.3,368.4 630.9,368.4 632.5,368.4 634.1,368.4 635.8,368.4 637.4,368.4 639,368.4 640.6,368.4 642.2,368.4 643.8,368.4 645.4,368.4 647.1,368.4 648.7,368.4 650.3,368.4 651.9,368.4 653.5,368.4 655.1,368.4 656.8,368.4 658.4,368.4 660,368.4 661.6,368.4 663.2,368.4 664.8,368.4 666.4,368.4 668.1,366.5 669.7,366.3 671.3,365.7 672.9,364.9 674.5,363.5 676.1,361.6 677.8,359.3 679.4,356.5 681,353.4 682.6,350 684.2,346.1 685.8,341.9 687.4,337.5 689.1,332.9 690.7,327.8 692.3,322.1 693.9,316.1 695.5,309.9 697.1,303.3 698.7,295.8 700.4,288.3 702,281.4 703.6,274.3 705.2,266.7 706.8,259.5 708.4,252.7 710,245.9 711.7,239.4 713.3,233.2 714.9,227.5 716.5,222.3 718.1,217.8 719.7,214 721.4,210.6 723,207.6 724.6,204.7 726.2,202.3 727.8,200.7 729.4,199.6 731,199.1 732.7,199.7 734.3,200.7 735.9,202.1 737.5,204.2 739.1,206.7 740.7,209.4 742.3,212.5 744,216.1 745.6,219.9 747.2,223.9 748.8,227.9 750.4,231.7 752,235.7 753.7,239.8 755.3,243.9 756.9,248 758.5,251.8 760.1,255.4 761.7,259.2 763.3,262.5 765,265 766.6,266.6 768.2,267.7 769.8,267.9 771.4,267.6 773,267 774.6,266.1 776.3,264.5 777.9,262.3 779.5,258.6 781.1,253.2 782.7,246.9 784.3,240.7 786,234.3 787.6,227.7 789.2,221 790.8,214.3 792.4,207.7 794,201.1 795.6,194.6 797.3,188.4 798.9,182.4 800.5,176.7 802.1,171.1 803.7,165.9 805.3,161.1 806.9,156.6 808.6,152.5 810.2,148.9 811.8,145.8 813.4,144.2 815,143.4 816.6,144 818.3,145.3 819.9,147.3 821.5,149.7 823.1,152.4 824.7,156 826.3,161.6 827.9,168.2 829.6,175.5 831.2,184.7 832.8,194.1 834.4,203.1 836,212.2 837.6,221.8 839.2,231.5 840.9,241 842.5,250.7 844.1,260.5 845.7,270.6 847.3,280.9 848.9,290.9 850.6,300.4 852.2,309.3 853.8,316.9 855.4,323.6 857,329.9 858.6,336.7 860.2,344 861.9,351.7 863.5,358.8 865.1,364.8 866.7,364.7 868.3,364.1 869.9,363.3 871.5,362.5 873.2,361.6 874.8,360.8 876.4,360.2 878,359.7 879.6,359.5 881.2,359.6 882.9,359.9 884.5,360.5 886.1,361.2 887.7,362.1 889.3,362.9 890.9,363.7 892.5,364.4 894.2,365 895.8,365.5 897.4,365.8 899,366.1 900.6,366.2 902.2,366.4 903.8,366.4 905.5,366.5 907.1,366.5 908.7,366.5 910.3,366.5 911.9,366.5 913.5,366.5 915.2,366.5 916.8,366.5 918.4,366.5 920,366.5 921.6,366.5 923.2,366.5 924.8,367.8 926.5,367.8 928.1,367.8 929.7,367.8 931.3,367.8 932.9,367.8 934.5,367.8 936.1,367.8 937.8,367.8 939.4,367.8 941,367.8 942.6,367.8 944.2,367.8 945.8,367.8 947.5,367.8 949.1,367.8 950.7,367.8" stroke="#99D8B5" marker-start="url(#mg)" marker-mid="url(#mg)" marker-end="url(#mg)"/>
<polyline points="629.3,368.4 630.9,368.4 632.5,368.4 634.1,368.4 635.8,368.4 637.4,368.4 639,368.4 640.6,368.4 642.2,368.4 643.8,368.4 645.4,368.4 647.1,368.4 648.7,368.4 650.3,368.4 651.9,368.4 653.5,368.4 655.1,368.4 656.8,368.4 658.4,368.4 660,368.4 661.6,368.4 663.2,368.4 664.8,368.4 666.4,366.5 668.1,366.1 669.7,365.3 671.3,364.3 672.9,362.5 674.5,360.5 676.1,358 677.8,355.1 679.4,351.9 681,348.3 682.6,344.3 684.2,340 685.8,335.6 687.4,330.9 689.1,325.7 690.7,319.8 692.3,313.8 693.9,307.6 695.5,300.9 697.1,293.3 698.7,285.9 700.4,279 702,271.9 703.6,264.3 705.2,257.1 706.8,250.3 708.4,243.5 710,237 711.7,230.8 713.3,225.1 714.9,219.8 716.5,215.2 718.1,211.3 719.7,207.9 721.4,204.8 723,201.9 724.6,199.3 726.2,197.6 727.8,196.3 729.4,195.5 731,195.9 732.7,196.6 734.3,197.7 735.9,199.4 737.5,201.6 739.1,204 740.7,206.7 742.3,209.9 744,213.3 745.6,216.9 747.2,220.5 748.8,224.1 750.4,227.7 752,231.4 753.7,235.2 755.3,239 756.9,242.6 758.5,246 760.1,249.4 761.7,252.8 763.3,255.6 765,257.5 766.6,258.8 768.2,259.7 769.8,259.6 771.4,259.2 773,258.6 774.6,257.5 776.3,255.8 777.9,253 779.5,248.4 781.1,243.1 782.7,237.9 784.3,232.4 786,226.9 787.6,221.2 789.2,215.6 790.8,210 792.4,204.5 794,199.3 795.6,194.2 797.3,189.4 798.9,184.7 800.5,180.4 802.1,176.5 803.7,172.8 805.3,169.6 806.9,166.8 808.6,165.1 810.2,164.4 811.8,165.1 813.4,166.9 815,169.4 816.6,172.1 818.3,175.1 819.9,179 821.5,183.5 823.1,188.4 824.7,193.6 826.3,199.4 827.9,206.4 829.6,214.8 831.2,223.8 832.8,233.3 834.4,243.5 836,254.2 837.6,264.1 839.2,273.6 840.9,283.6 842.5,294 844.1,304.3 845.7,314.6 847.3,325 848.9,335.4 850.6,345 852.2,354.7 853.8,366.4 855.4,366.5 857,366.5 858.6,366.4 860.2,366.4 861.9,366.3 863.5,366.1 865.1,366 866.7,365.7 868.3,365.5 869.9,365.1 871.5,364.8 873.2,364.4 874.8,364.1 876.4,363.8 878,363.6 879.6,363.5 881.2,363.5 882.9,363.7 884.5,363.9 886.1,364.3 887.7,364.6 889.3,365 890.9,365.3 892.5,365.6 894.2,365.9 895.8,366.1 897.4,366.2 899,366.3 900.6,366.4 902.2,366.4 903.8,366.5 905.5,366.5 907.1,366.5 908.7,366.5 910.3,366.5 911.9,366.5 913.5,366.5 915.2,366.5 916.8,366.5 918.4,366.5 920,366.5 921.6,366.5 923.2,366.5 924.8,367.8 926.5,367.8 928.1,367.8 929.7,367.8 931.3,367.8 932.9,367.8 934.5,367.8 936.1,367.8 937.8,367.8 939.4,367.8 941,367.8 942.6,367.8 944.2,367.8 945.8,367.8 947.5,367.8 949.1,367.8 950.7,367.8" stroke="#BDBDBD" marker-start="url(#mk)" marker-mid="url(#mk)" marker-end="url(#mk)"/>
</g>
<g stroke="#000" stroke-width="1.3" fill="none">
<rect x="606" y="67.5" width="371" height="299"/>
<path d="M659 366.5v-10.5M712 366.5v-10.5M765 366.5v-10.5M818 366.5v-10.5M871 366.5v-10.5M924 366.5v-10.5M622 366.5v-5.3M631.3 366.5v-5.3M637.9 366.5v-5.3M643 366.5v-5.3M647.2 366.5v-5.3M650.8 366.5v-5.3M653.9 366.5v-5.3M656.6 366.5v-5.3M675 366.5v-5.3M684.3 366.5v-5.3M690.9 366.5v-5.3M696 366.5v-5.3M700.2 366.5v-5.3M703.8 366.5v-5.3M706.9 366.5v-5.3M709.6 366.5v-5.3M728 366.5v-5.3M737.3 366.5v-5.3M743.9 366.5v-5.3M749 366.5v-5.3M753.2 366.5v-5.3M756.8 366.5v-5.3M759.9 366.5v-5.3M762.6 366.5v-5.3M781 366.5v-5.3M790.3 366.5v-5.3M796.9 366.5v-5.3M802 366.5v-5.3M806.2 366.5v-5.3M809.8 366.5v-5.3M812.9 366.5v-5.3M815.6 366.5v-5.3M834 366.5v-5.3M843.3 366.5v-5.3M849.9 366.5v-5.3M855 366.5v-5.3M859.2 366.5v-5.3M862.8 366.5v-5.3M865.9 366.5v-5.3M868.6 366.5v-5.3M887 366.5v-5.3M896.3 366.5v-5.3M902.9 366.5v-5.3M908 366.5v-5.3M912.2 366.5v-5.3M915.8 366.5v-5.3M918.9 366.5v-5.3M921.6 366.5v-5.3M940 366.5v-5.3M949.3 366.5v-5.3M955.9 366.5v-5.3M961 366.5v-5.3M965.2 366.5v-5.3M968.8 366.5v-5.3M971.9 366.5v-5.3M974.6 366.5v-5.3M606 351.6h4.8M606 336.6h10.5M606 321.7h4.8M606 306.7h10.5M606 291.8h4.8M606 276.8h10.5M606 261.9h4.8M606 246.9h10.5M606 231.9h4.8M606 217h10.5M606 202.1h4.8M606 187.1h10.5M606 172.2h4.8M606 157.2h10.5M606 142.2h4.8M606 127.3h10.5M606 112.3h4.8M606 97.4h10.5M606 82.5h4.8"/>
</g>
<g stroke="#000" stroke-width="1.3">
<line x1="606" y1="11.5" x2="606" y2="67.5"/>
<line x1="712" y1="11.5" x2="712" y2="366.5"/>
<line x1="765" y1="11.5" x2="765" y2="366.5"/>
<line x1="855" y1="11.5" x2="855" y2="366.5"/>
<line x1="977" y1="11.5" x2="977" y2="67.5"/>
<line x1="606" y1="52.5" x2="977" y2="52.5"/>
</g>
<use href="#ar" x="606" y="52.5"/>
<use href="#ar" transform="translate(712 52.5) scale(-1 1)"/>
<use href="#ar" x="712" y="52.5"/>
<use href="#ar" transform="translate(765 52.5) scale(-1 1)"/>
<use href="#ar" x="765" y="52.5"/>
<use href="#ar" transform="translate(855 52.5) scale(-1 1)"/>
<use href="#ar" x="855" y="52.5"/>
<use href="#ar" transform="translate(977 52.5) scale(-1 1)"/>
<rect x="619.8" y="16.7" width="76.5" height="17.2" fill="#fff"/>
<rect x="625.8" y="35.1" width="64.5" height="15.4" fill="#fff"/>
<text x="658" y="30.3" font-size="14" text-anchor="middle">Micro - pores</text>
<text x="658" y="47.6" font-size="14" text-anchor="middle">（＜0.1μm）</text>
<rect x="702.7" y="16.7" width="69.6" height="17.2" fill="#fff"/>
<rect x="703.7" y="35.1" width="67.6" height="15.4" fill="#fff"/>
<text x="737.5" y="30.3" font-size="14" text-anchor="middle">Mini - pores</text>
<text x="737.5" y="47.6" font-size="14" text-anchor="middle">（0.1~1μm）</text>
<rect x="775" y="16.7" width="74" height="17.2" fill="#fff"/>
<rect x="778.5" y="35.1" width="67" height="15.4" fill="#fff"/>
<text x="812" y="30.3" font-size="14" text-anchor="middle">Mcso - pores</text>
<text x="812" y="47.6" font-size="14" text-anchor="middle">（1~50μm）</text>
<rect x="877.7" y="16.7" width="80" height="17.2" fill="#fff"/>
<rect x="885.5" y="35.1" width="64.5" height="15.4" fill="#fff"/>
<text x="917.7" y="30.3" font-size="14" text-anchor="middle">Macro - pores</text>
<text x="917.7" y="47.6" font-size="14" text-anchor="middle">（＞50μm）</text>
<rect x="651.7" y="76" width="89" height="16.4" fill="#fff"/>
<polyline points="616.5,84.6 632.9,84.6 648,84.6" fill="none" stroke="#FAAC4E" stroke-width="1.3" stroke-dasharray="1.4 2.3" marker-mid="url(#mo)"/>
<text x="652.2" y="88.7" font-size="14">After saturation</text>
<rect x="651.7" y="93.3" width="121" height="16.4" fill="#fff"/>
<polyline points="616.5,101.9 632.9,101.9 648,101.9" fill="none" stroke="#EE7880" stroke-width="1.3" stroke-dasharray="1.4 2.3" marker-mid="url(#mr)"/>
<text x="652.2" y="106" font-size="14">10 days of immersion</text>
<rect x="651.7" y="110.7" width="121" height="16.4" fill="#fff"/>
<polyline points="616.5,119.3 632.9,119.3 648,119.3" fill="none" stroke="#5595D6" stroke-width="1.3" stroke-dasharray="1.4 2.3" marker-mid="url(#mb)"/>
<text x="652.2" y="123.4" font-size="14">20 days of immersion</text>
<rect x="651.7" y="128" width="121" height="16.4" fill="#fff"/>
<polyline points="616.5,136.6 632.9,136.6 648,136.6" fill="none" stroke="#99D8B5" stroke-width="1.3" stroke-dasharray="1.4 2.3" marker-mid="url(#mg)"/>
<text x="652.2" y="140.7" font-size="14">30 days of immersion</text>
<rect x="651.7" y="145.3" width="121" height="16.4" fill="#fff"/>
<polyline points="616.5,153.9 632.9,153.9 648,153.9" fill="none" stroke="#BDBDBD" stroke-width="1.3" stroke-dasharray="1.4 2.3" marker-mid="url(#mk)"/>
<text x="652.2" y="158" font-size="14">40 days of immersion</text>
<g font-size="17" font-weight="bold" text-anchor="end">
<text x="593.5" y="371.4">0.00</text>
<text x="593.5" y="341.5">0.02</text>
<text x="593.5" y="311.6">0.04</text>
<text x="593.5" y="281.7">0.06</text>
<text x="593.5" y="251.8">0.08</text>
<text x="593.5" y="221.9">0.10</text>
<text x="593.5" y="192">0.12</text>
<text x="593.5" y="162.1">0.14</text>
<text x="593.5" y="132.2">0.16</text>
<text x="593.5" y="102.3">0.18</text>
<text x="593.5" y="72.4">0.20</text>
</g>
<g font-size="17" font-weight="bold" text-anchor="middle">
<text x="605.2" y="391.7">0.001</text>
<text x="658.2" y="391.7">0.01</text>
<text x="711.2" y="391.7">0.1</text>
<text x="764.2" y="391.7">1</text>
<text x="817.2" y="391.7">10</text>
<text x="870.2" y="391.7">100</text>
<text x="923.2" y="391.7">1000</text>
<text x="976.2" y="391.7">10000</text>
</g>
<text x="791.4" y="421.7" font-size="17" font-weight="bold" text-anchor="middle">Pore size / μm</text>
<text transform="translate(554.7 215.5) rotate(-90)" font-size="17" font-weight="bold" text-anchor="middle">Pore size distribution / %</text>
<text x="787" y="446.7" font-size="17" text-anchor="middle">(b) Acidic salt solution</text>
</g>
<g id="chart-c">
<g clip-path="url(#cpc)" fill="none" stroke-width="1" stroke-dasharray="1.3 1.9">
<polyline points="93.8,813.9 95.4,813.9 97,813.9 98.6,813.9 100.3,813.9 101.9,813.9 103.5,813.9 105.1,813.9 106.7,813.9 108.3,813.9 109.9,813.9 111.6,813.9 113.2,813.9 114.8,813.9 116.4,813.9 118,813.9 119.6,813.9 121.3,813.9 122.9,813.9 124.5,813.9 126.1,813.9 127.7,812 129.3,811.6 130.9,810.8 132.6,809.8 134.2,808.5 135.8,806.5 137.4,804.1 139,801.5 140.6,799 142.2,796.5 143.9,793.8 145.5,790.9 147.1,787.8 148.7,784.3 150.3,780.5 151.9,776.2 153.6,771 155.2,765.4 156.8,759.9 158.4,754.2 160,748.2 161.6,741.8 163.2,734.9 164.9,727.4 166.5,719.8 168.1,712.2 169.7,704.7 171.3,697.2 172.9,689.6 174.6,682 176.2,675.1 177.8,668.8 179.4,663 181,657.5 182.6,652.9 184.2,649.3 185.9,646.1 187.5,643.6 189.1,641.8 190.7,640.1 192.3,638.6 193.9,637.6 195.5,637.2 197.2,637.7 198.8,638.7 200.4,640 202,642.2 203.6,644.9 205.2,647.9 206.8,651.3 208.5,655.2 210.1,659.5 211.7,664 213.3,668.6 214.9,673.2 216.5,677.7 218.2,682.3 219.8,687.1 221.4,691.9 223,696.6 224.6,701 226.2,705.3 227.8,709.6 229.5,713.5 231.1,716.5 232.7,718.4 234.3,719.8 235.9,720.2 237.5,719.8 239.1,719.1 240.8,718 242.4,716.1 244,713.3 245.6,708.8 247.2,701.8 248.8,693.6 250.5,685.2 252.1,676.8 253.7,667.9 255.3,659.1 256.9,650.1 258.5,641.3 260.1,632.4 261.8,623.8 263.4,615.5 265,607.4 266.6,599.7 268.2,592.3 269.8,585.2 271.4,578.8 273.1,572.7 274.7,567.1 276.3,562.3 277.9,558 279.5,555.6 281.1,554.5 282.8,555.2 284.4,556.8 286,559.8 287.6,563.7 289.2,568 290.8,573 292.4,579.1 294.1,587.6 295.7,598.7 297.3,611.4 298.9,626.1 300.5,641.2 302.1,656.6 303.8,672.2 305.4,687.9 307,703.7 308.6,719.8 310.2,735.5 311.8,750.1 313.4,764.3 315.1,779.4 316.7,794.6 318.3,808.3 319.9,812 321.5,811.9 323.1,811.9 324.7,811.9 326.4,811.8 328,811.8 329.6,811.7 331.2,811.6 332.8,811.5 334.4,811.3 336.1,811.2 337.7,811 339.3,810.9 340.9,810.8 342.5,810.6 344.1,810.6 345.7,810.5 347.4,810.5 349,810.5 350.6,810.6 352.2,810.7 353.8,810.8 355.4,811 357,811.1 358.7,811.2 360.3,811.4 361.9,811.5 363.5,811.6 365.1,811.7 366.7,811.8 368.4,811.8 370,811.9 371.6,811.9 373.2,812 374.8,812 376.4,812 378,812 379.7,812 381.3,812 382.9,812 384.5,812 386.1,812 387.7,812 389.3,813.3 391,813.3 392.6,813.3 394.2,813.3 395.8,813.3 397.4,813.3 399,813.3 400.7,813.3 402.3,813.3 403.9,813.3 405.5,813.3 407.1,813.3 408.7,813.3 410.3,813.3 412,813.3 413.6,813.3 415.2,813.3" stroke="#FAAC4E" marker-start="url(#mo)" marker-mid="url(#mo)" marker-end="url(#mo)"/>
<polyline points="93.8,813.9 95.4,813.9 97,813.9 98.6,813.9 100.3,813.9 101.9,813.9 103.5,813.9 105.1,813.9 106.7,813.9 108.3,813.9 109.9,813.9 111.6,813.9 113.2,813.9 114.8,813.9 116.4,813.9 118,813.9 119.6,813.9 121.3,813.9 122.9,813.9 124.5,813.9 126.1,813.9 127.7,813.9 129.3,812 130.9,811.5 132.6,810.5 134.2,809.4 135.8,807.8 137.4,805.6 139,803.1 140.6,800.6 142.2,798.1 143.9,795.5 145.5,792.7 147.1,789.8 148.7,786.5 150.3,782.9 151.9,778.9 153.6,774.3 155.2,768.9 156.8,763.3 158.4,757.8 160,751.9 161.6,745.8 163.2,739.2 164.9,732.1 166.5,724.5 168.1,716.9 169.7,709.4 171.3,701.8 172.9,694.3 174.6,686.9 176.2,679.8 177.8,673.3 179.4,667.7 181,662.6 182.6,658.1 184.2,654.5 185.9,651.6 187.5,649.1 189.1,647.4 190.7,646.3 192.3,645.3 193.9,644.7 195.5,644.4 197.2,644.8 198.8,645.7 200.4,646.8 202,648.7 203.6,651 205.2,653.6 206.8,656.5 208.5,659.9 210.1,663.6 211.7,667.4 213.3,671.4 214.9,675.3 216.5,679.2 218.2,683.2 219.8,687.3 221.4,691.4 223,695.3 224.6,699.1 226.2,702.7 227.8,706.4 229.5,709.7 231.1,711.9 232.7,713.4 234.3,714.5 235.9,714.7 237.5,714.2 239.1,713.5 240.8,712.5 242.4,710.7 244,708.3 245.6,704.2 247.2,698.1 248.8,691 250.5,683.9 252.1,676.7 253.7,669.2 255.3,661.7 256.9,654.1 258.5,646.6 260.1,639 261.8,631.7 263.4,624.6 265,617.7 266.6,611.1 268.2,604.8 269.8,598.7 271.4,593.2 273.1,587.9 274.7,583.1 276.3,578.9 277.9,575 279.5,572.5 281.1,571.2 282.8,571.4 284.4,572.6 286,574.5 287.6,577.7 289.2,581.3 290.8,585.2 292.4,589.9 294.1,595.5 295.7,603.5 297.3,613.4 298.9,624.7 300.5,637.6 302.1,650.8 303.8,664.3 305.4,678 307,691.7 308.6,705.6 310.2,719.6 311.8,733.6 313.4,746.9 315.1,759.5 316.7,772.2 318.3,785.6 319.9,799 321.5,809.9 323.1,811.9 324.7,811.9 326.4,811.8 328,811.8 329.6,811.7 331.2,811.6 332.8,811.5 334.4,811.3 336.1,811.2 337.7,811 339.3,810.9 340.9,810.8 342.5,810.6 344.1,810.6 345.7,810.5 347.4,810.5 349,810.5 350.6,810.6 352.2,810.7 353.8,810.8 355.4,811 357,811.1 358.7,811.2 360.3,811.4 361.9,811.5 363.5,811.6 365.1,811.7 366.7,811.8 368.4,811.8 370,811.9 371.6,811.9 373.2,812 374.8,812 376.4,812 378,812 379.7,812 381.3,812 382.9,812 384.5,812 386.1,812 387.7,812 389.3,813.3 391,813.3 392.6,813.3 394.2,813.3 395.8,813.3 397.4,813.3 399,813.3 400.7,813.3 402.3,813.3 403.9,813.3 405.5,813.3 407.1,813.3 408.7,813.3 410.3,813.3 412,813.3 413.6,813.3 415.2,813.3" stroke="#EE7880" marker-start="url(#mr)" marker-mid="url(#mr)" marker-end="url(#mr)"/>
<polyline points="93.8,813.9 95.4,813.9 97,813.9 98.6,813.9 100.3,813.9 101.9,813.9 103.5,813.9 105.1,813.9 106.7,813.9 108.3,813.9 109.9,813.9 111.6,813.9 113.2,813.9 114.8,813.9 116.4,813.9 118,813.9 119.6,813.9 121.3,813.9 122.9,813.9 124.5,813.9 126.1,813.9 127.7,813.9 129.3,813.9 130.9,813.9 132.6,813.9 134.2,813.9 135.8,813.9 137.4,813.9 139,813.9 140.6,813.9 142.2,812 143.9,811.4 145.5,809.6 147.1,807.5 148.7,804.5 150.3,801.4 151.9,798.4 153.6,795.2 155.2,791.6 156.8,787 158.4,781.9 160,776.8 161.6,771.3 163.2,765.3 164.9,758.6 166.5,751.4 168.1,743.5 169.7,734.8 171.3,726.3 172.9,718.3 174.6,710.7 176.2,703.2 177.8,695.5 179.4,688.3 181,681.7 182.6,675.7 184.2,670.2 185.9,665.8 187.5,662.2 189.1,659.4 190.7,657.1 192.3,655.3 193.9,654 195.5,653.2 197.2,652.6 198.8,652.6 200.4,653.3 202,654.2 203.6,655.8 205.2,657.9 206.8,660.3 208.5,663 210.1,666.2 211.7,669.7 213.3,673.3 214.9,677.1 216.5,680.7 218.2,684.4 219.8,688.2 221.4,692.1 223,695.9 224.6,699.5 226.2,702.9 227.8,706.4 229.5,709.7 231.1,712 232.7,713.5 234.3,714.5 235.9,714.7 237.5,714.2 239.1,713.5 240.8,712.5 242.4,710.7 244,708.3 245.6,704.2 247.2,698.1 248.8,691 250.5,683.9 252.1,676.7 253.7,669.2 255.3,661.7 256.9,654.1 258.5,646.6 260.1,639 261.8,631.7 263.4,624.6 265,617.7 266.6,611.1 268.2,604.8 269.8,598.7 271.4,593.2 273.1,587.9 274.7,583.1 276.3,578.9 277.9,575 279.5,572.5 281.1,571.2 282.8,571.4 284.4,572.6 286,574.4 287.6,577.6 289.2,581.1 290.8,584.9 292.4,589.4 294.1,594.9 295.7,602.5 297.3,612.2 298.9,623.1 300.5,635.7 302.1,648.7 303.8,662 305.4,675.5 307,689.1 308.6,702.8 310.2,716.5 311.8,730.5 313.4,743.8 315.1,756.3 316.7,768.7 318.3,781.8 319.9,795 321.5,807.3 323.1,811.9 324.7,811.8 326.4,811.7 328,811.6 329.6,811.5 331.2,811.4 332.8,811.2 334.4,811 336.1,810.8 337.7,810.5 339.3,810.3 340.9,810.1 342.5,810 344.1,809.8 345.7,809.8 347.4,809.8 349,809.8 350.6,809.9 352.2,810 353.8,810.2 355.4,810.4 357,810.6 358.7,810.9 360.3,811.1 361.9,811.3 363.5,811.4 365.1,811.6 366.7,811.7 368.4,811.8 370,811.8 371.6,811.9 373.2,811.9 374.8,812 376.4,812 378,812 379.7,812 381.3,812 382.9,812 384.5,812 386.1,812 387.7,812 389.3,813.3 391,813.3 392.6,813.3 394.2,813.3 395.8,813.3 397.4,813.3 399,813.3 400.7,813.3 402.3,813.3 403.9,813.3 405.5,813.3 407.1,813.3 408.7,813.3 410.3,813.3 412,813.3 413.6,813.3 415.2,813.3" stroke="#5595D6" marker-start="url(#mb)" marker-mid="url(#mb)" marker-end="url(#mb)"/>
<polyline points="93.8,813.9 95.4,813.9 97,813.9 98.6,813.9 100.3,813.9 101.9,813.9 103.5,813.9 105.1,813.9 106.7,813.9 108.3,813.9 109.9,813.9 111.6,813.9 113.2,813.9 114.8,813.9 116.4,813.9 118,813.9 119.6,813.9 121.3,813.9 122.9,813.9 124.5,813.9 126.1,813.9 127.7,813.9 129.3,813.9 130.9,813.9 132.6,813.9 134.2,812 135.8,811.8 137.4,810.8 139,809.5 140.6,807.9 142.2,805.9 143.9,803.6 145.5,801.3 147.1,798.9 148.7,796.4 150.3,793.4 151.9,789.8 153.6,785.2 155.2,780.1 156.8,774.7 158.4,769.2 160,763.4 161.6,757.4 163.2,751.2 164.9,744.7 166.5,738 168.1,730.8 169.7,723.4 171.3,715.9 172.9,708.3 174.6,700.7 176.2,693.3 177.8,686 179.4,679.2 181,672.8 182.6,667.1 184.2,662.1 185.9,657.9 187.5,654.6 189.1,651.8 190.7,649.8 192.3,648.4 193.9,647.3 195.5,646.6 197.2,646.9 198.8,647.6 200.4,648.6 202,650.2 203.6,652.4 205.2,654.8 206.8,657.5 208.5,660.6 210.1,664 211.7,667.7 213.3,671.4 214.9,675.1 216.5,678.8 218.2,682.5 219.8,686.4 221.4,690.3 223,694.1 224.6,697.6 226.2,701.1 227.8,704.5 229.5,707.6 231.1,709.8 232.7,711.3 234.3,712.3 235.9,712.4 237.5,712 239.1,711.3 240.8,710.3 242.4,708.5 244,706.1 245.6,702 247.2,696 248.8,689 250.5,682 252.1,674.9 253.7,667.4 255.3,660 256.9,652.5 258.5,645 260.1,637.6 261.8,630.3 263.4,623.3 265,616.5 266.6,609.9 268.2,603.7 269.8,597.7 271.4,592.2 273.1,587 274.7,582.2 276.3,578 277.9,574.2 279.5,571.8 281.1,570.5 282.8,570.6 284.4,571.8 286,573.6 287.6,576.7 289.2,580.1 290.8,583.9 292.4,588.3 294.1,593.7 295.7,601 297.3,610.4 298.9,621 300.5,633.4 302.1,646.2 303.8,659.4 305.4,672.7 307,686.1 308.6,699.7 310.2,713.3 311.8,727 313.4,740.5 315.1,753 316.7,765.2 318.3,777.9 319.9,791.1 321.5,803.9 323.1,811.5 324.7,811.3 326.4,811.1 328,810.8 329.6,810.4 331.2,809.9 332.8,809.4 334.4,808.8 336.1,808.2 337.7,807.6 339.3,806.9 340.9,806.4 342.5,805.9 344.1,805.5 345.7,805.2 347.4,805.1 349,805.2 350.6,805.4 352.2,805.8 353.8,806.3 355.4,806.8 357,807.4 358.7,808.1 360.3,808.7 361.9,809.3 363.5,809.8 365.1,810.3 366.7,810.7 368.4,811 370,811.3 371.6,811.5 373.2,811.7 374.8,811.8 376.4,811.8 378,811.9 379.7,811.9 381.3,812 382.9,812 384.5,812 386.1,812 387.7,812 389.3,813.3 391,813.3 392.6,813.3 394.2,813.3 395.8,813.3 397.4,813.3 399,813.3 400.7,813.3 402.3,813.3 403.9,813.3 405.5,813.3 407.1,813.3 408.7,813.3 410.3,813.3 412,813.3 413.6,813.3 415.2,813.3" stroke="#99D8B5" marker-start="url(#mg)" marker-mid="url(#mg)" marker-end="url(#mg)"/>
<polyline points="93.8,813.9 95.4,813.9 97,813.9 98.6,813.9 100.3,813.9 101.9,813.9 103.5,813.9 105.1,813.9 106.7,813.9 108.3,813.9 109.9,813.9 111.6,813.9 113.2,813.9 114.8,813.9 116.4,813.9 118,813.9 119.6,813.9 121.3,813.9 122.9,813.9 124.5,813.9 126.1,813.9 127.7,813.9 129.3,813.9 130.9,813.9 132.6,812 134.2,811.4 135.8,810.4 137.4,809.2 139,807.5 140.6,805.4 142.2,803.1 143.9,800.8 145.5,798.4 147.1,795.7 148.7,792.6 150.3,788.8 151.9,784 153.6,778.8 155.2,773.4 156.8,767.9 158.4,762 160,755.9 161.6,749.7 163.2,743.2 164.9,736.3 166.5,729 168.1,721.6 169.7,714.1 171.3,706.5 172.9,698.8 174.6,691.6 176.2,685 177.8,678.5 179.4,671.9 181,666 182.6,660.9 184.2,656.6 185.9,653.4 187.5,650.6 189.1,648.4 190.7,646.9 192.3,645.6 193.9,644.6 195.5,644.2 197.2,644.7 198.8,645.5 200.4,646.6 202,648.4 203.6,650.7 205.2,653.2 206.8,656.1 208.5,659.4 210.1,663.1 211.7,666.9 213.3,670.7 214.9,674.6 216.5,678.3 218.2,682.3 219.8,686.3 221.4,690.3 223,694.2 224.6,697.9 226.2,701.5 227.8,705.1 229.5,708.3 231.1,710.5 232.7,712 234.3,713 235.9,713.2 237.5,712.7 239.1,712.1 240.8,711.1 242.4,709.3 244,706.8 245.6,702.8 247.2,696.8 248.8,689.8 250.5,682.8 252.1,675.7 253.7,668.2 255.3,660.7 256.9,653.2 258.5,645.7 260.1,638.2 261.8,630.8 263.4,623.8 265,617 266.6,610.4 268.2,604.1 269.8,598 271.4,592.5 273.1,587.2 274.7,582.3 276.3,578.1 277.9,574.2 279.5,571.5 281.1,570.1 282.8,570.1 284.4,571.1 286,572.6 287.6,575.4 289.2,578.6 290.8,582.1 292.4,586.1 294.1,590.8 295.7,596.7 297.3,604.9 298.9,614.4 300.5,625.4 302.1,637.5 303.8,649.9 305.4,662.6 307,675.4 308.6,688.4 310.2,701.4 311.8,714.5 313.4,727.7 315.1,740.6 316.7,752.6 318.3,764.3 319.9,776.4 321.5,789.1 323.1,801.6 324.7,810.6 326.4,811.4 328,811.3 329.6,811.1 331.2,810.8 332.8,810.6 334.4,810.3 336.1,810 337.7,809.7 339.3,809.4 340.9,809.2 342.5,809 344.1,808.8 345.7,808.7 347.4,808.7 349,808.8 350.6,808.9 352.2,809.1 353.8,809.3 355.4,809.5 357,809.8 358.7,810.1 360.3,810.4 361.9,810.7 363.5,810.9 365.1,811.2 366.7,811.3 368.4,811.5 370,811.6 371.6,811.7 373.2,811.8 374.8,811.9 376.4,811.9 378,811.9 379.7,812 381.3,812 382.9,812 384.5,812 386.1,812 387.7,812 389.3,813.3 391,813.3 392.6,813.3 394.2,813.3 395.8,813.3 397.4,813.3 399,813.3 400.7,813.3 402.3,813.3 403.9,813.3 405.5,813.3 407.1,813.3 408.7,813.3 410.3,813.3 412,813.3 413.6,813.3 415.2,813.3" stroke="#BDBDBD" marker-start="url(#mk)" marker-mid="url(#mk)" marker-end="url(#mk)"/>
</g>
<g stroke="#000" stroke-width="1.3" fill="none">
<rect x="70.5" y="512.7" width="371" height="299.3"/>
<path d="M123.5 812v-10.5M176.5 812v-10.5M229.5 812v-10.5M282.5 812v-10.5M335.5 812v-10.5M388.5 812v-10.5M86.5 812v-5.3M95.8 812v-5.3M102.4 812v-5.3M107.5 812v-5.3M111.7 812v-5.3M115.3 812v-5.3M118.4 812v-5.3M121.1 812v-5.3M139.5 812v-5.3M148.8 812v-5.3M155.4 812v-5.3M160.5 812v-5.3M164.7 812v-5.3M168.3 812v-5.3M171.4 812v-5.3M174.1 812v-5.3M192.5 812v-5.3M201.8 812v-5.3M208.4 812v-5.3M213.5 812v-5.3M217.7 812v-5.3M221.3 812v-5.3M224.4 812v-5.3M227.1 812v-5.3M245.5 812v-5.3M254.8 812v-5.3M261.4 812v-5.3M266.5 812v-5.3M270.7 812v-5.3M274.3 812v-5.3M277.4 812v-5.3M280.1 812v-5.3M298.5 812v-5.3M307.8 812v-5.3M314.4 812v-5.3M319.5 812v-5.3M323.7 812v-5.3M327.3 812v-5.3M330.4 812v-5.3M333.1 812v-5.3M351.5 812v-5.3M360.8 812v-5.3M367.4 812v-5.3M372.5 812v-5.3M376.7 812v-5.3M380.3 812v-5.3M383.4 812v-5.3M386.1 812v-5.3M404.5 812v-5.3M413.8 812v-5.3M420.4 812v-5.3M425.5 812v-5.3M429.7 812v-5.3M433.3 812v-5.3M436.4 812v-5.3M439.1 812v-5.3M70.5 797h4.8M70.5 782.1h10.5M70.5 767.1h4.8M70.5 752.1h10.5M70.5 737.2h4.8M70.5 722.2h10.5M70.5 707.2h4.8M70.5 692.3h10.5M70.5 677.3h4.8M70.5 662.4h10.5M70.5 647.4h4.8M70.5 632.4h10.5M70.5 617.5h4.8M70.5 602.5h10.5M70.5 587.5h4.8M70.5 572.6h10.5M70.5 557.6h4.8M70.5 542.6h10.5M70.5 527.7h4.8"/>
</g>
<g stroke="#000" stroke-width="1.3">
<line x1="70.5" y1="457.2" x2="70.5" y2="512.7"/>
<line x1="176.5" y1="457.2" x2="176.5" y2="812"/>
<line x1="229.5" y1="457.2" x2="229.5" y2="812"/>
<line x1="319.5" y1="457.2" x2="319.5" y2="812"/>
<line x1="441.5" y1="457.2" x2="441.5" y2="512.7"/>
<line x1="70.5" y1="498" x2="441.5" y2="498"/>
</g>
<use href="#ar" x="70.5" y="498"/>
<use href="#ar" transform="translate(176.5 498) scale(-1 1)"/>
<use href="#ar" x="176.5" y="498"/>
<use href="#ar" transform="translate(229.5 498) scale(-1 1)"/>
<use href="#ar" x="229.5" y="498"/>
<use href="#ar" transform="translate(319.5 498) scale(-1 1)"/>
<use href="#ar" x="319.5" y="498"/>
<use href="#ar" transform="translate(441.5 498) scale(-1 1)"/>
<rect x="84.2" y="461.9" width="76.5" height="17.2" fill="#fff"/>
<rect x="90.2" y="480.3" width="64.5" height="15.4" fill="#fff"/>
<text x="122.5" y="475.5" font-size="14" text-anchor="middle">Micro - pores</text>
<text x="122.5" y="492.8" font-size="14" text-anchor="middle">（＜0.1μm）</text>
<rect x="167.2" y="461.9" width="69.6" height="17.2" fill="#fff"/>
<rect x="168.2" y="480.3" width="67.6" height="15.4" fill="#fff"/>
<text x="202" y="475.5" font-size="14" text-anchor="middle">Mini - pores</text>
<text x="202" y="492.8" font-size="14" text-anchor="middle">（0.1~1μm）</text>
<rect x="239.5" y="461.9" width="74" height="17.2" fill="#fff"/>
<rect x="243" y="480.3" width="67" height="15.4" fill="#fff"/>
<text x="276.5" y="475.5" font-size="14" text-anchor="middle">Mcso - pores</text>
<text x="276.5" y="492.8" font-size="14" text-anchor="middle">（1~50μm）</text>
<rect x="342.2" y="461.9" width="80" height="17.2" fill="#fff"/>
<rect x="350" y="480.3" width="64.5" height="15.4" fill="#fff"/>
<text x="382.2" y="475.5" font-size="14" text-anchor="middle">Macro - pores</text>
<text x="382.2" y="492.8" font-size="14" text-anchor="middle">（＞50μm）</text>
<rect x="116.2" y="521.2" width="89" height="16.4" fill="#fff"/>
<polyline points="81,529.8 97.4,529.8 112.5,529.8" fill="none" stroke="#FAAC4E" stroke-width="1.3" stroke-dasharray="1.4 2.3" marker-mid="url(#mo)"/>
<text x="116.7" y="533.9" font-size="14">After saturation</text>
<rect x="116.2" y="538.5" width="121" height="16.4" fill="#fff"/>
<polyline points="81,547.1 97.4,547.1 112.5,547.1" fill="none" stroke="#EE7880" stroke-width="1.3" stroke-dasharray="1.4 2.3" marker-mid="url(#mr)"/>
<text x="116.7" y="551.2" font-size="14">10 days of immersion</text>
<rect x="116.2" y="555.9" width="121" height="16.4" fill="#fff"/>
<polyline points="81,564.5 97.4,564.5 112.5,564.5" fill="none" stroke="#5595D6" stroke-width="1.3" stroke-dasharray="1.4 2.3" marker-mid="url(#mb)"/>
<text x="116.7" y="568.6" font-size="14">20 days of immersion</text>
<rect x="116.2" y="573.2" width="121" height="16.4" fill="#fff"/>
<polyline points="81,581.8 97.4,581.8 112.5,581.8" fill="none" stroke="#99D8B5" stroke-width="1.3" stroke-dasharray="1.4 2.3" marker-mid="url(#mg)"/>
<text x="116.7" y="585.9" font-size="14">30 days of immersion</text>
<rect x="116.2" y="590.5" width="121" height="16.4" fill="#fff"/>
<polyline points="81,599.1 97.4,599.1 112.5,599.1" fill="none" stroke="#BDBDBD" stroke-width="1.3" stroke-dasharray="1.4 2.3" marker-mid="url(#mk)"/>
<text x="116.7" y="603.2" font-size="14">40 days of immersion</text>
<g font-size="17" font-weight="bold" text-anchor="end">
<text x="58" y="817.3">0.00</text>
<text x="58" y="787.4">0.02</text>
<text x="58" y="757.4">0.04</text>
<text x="58" y="727.5">0.06</text>
<text x="58" y="697.6">0.08</text>
<text x="58" y="667.6">0.10</text>
<text x="58" y="637.7">0.12</text>
<text x="58" y="607.8">0.14</text>
<text x="58" y="577.9">0.16</text>
<text x="58" y="547.9">0.18</text>
<text x="58" y="518">0.20</text>
</g>
<g font-size="17" font-weight="bold" text-anchor="middle">
<text x="69.7" y="837.2">0.001</text>
<text x="122.7" y="837.2">0.01</text>
<text x="175.7" y="837.2">0.1</text>
<text x="228.7" y="837.2">1</text>
<text x="281.7" y="837.2">10</text>
<text x="334.7" y="837.2">100</text>
<text x="387.7" y="837.2">1000</text>
<text x="440.7" y="837.2">10000</text>
</g>
<text x="255.9" y="867.2" font-size="17" font-weight="bold" text-anchor="middle">Pore size / μm</text>
<text transform="translate(19.3 662.1) rotate(-90)" font-size="17" font-weight="bold" text-anchor="middle">Pore size distribution / %</text>
<text x="252" y="892.2" font-size="17" text-anchor="middle">(c) Neutral salt solution</text>
</g>
<g id="chart-d">
<g clip-path="url(#cpd)" fill="none" stroke-width="1" stroke-dasharray="1.3 1.9">
<polyline points="629.3,813.9 630.9,813.9 632.5,813.9 634.1,813.9 635.8,813.9 637.4,813.9 639,813.9 640.6,813.9 642.2,813.9 643.8,813.9 645.4,813.9 647.1,813.9 648.7,813.9 650.3,813.9 651.9,813.9 653.5,813.9 655.1,813.9 656.8,813.9 658.4,813.9 660,813.9 661.6,812 663.2,811.9 664.8,811.4 666.4,810.7 668.1,810 669.7,809.2 671.3,808.1 672.9,806.9 674.5,805.5 676.1,803.7 677.8,801.2 679.4,798.1 681,794.8 682.6,791.2 684.2,787 685.8,782.4 687.4,778 689.1,773.8 690.7,769.4 692.3,764.5 693.9,759.2 695.5,753.5 697.1,747.4 698.7,740.7 700.4,734 702,727.3 703.6,720.8 705.2,714.8 706.8,709.1 708.4,703.8 710,699 711.7,694.3 713.3,690.1 714.9,686.7 716.5,683.9 718.1,681.5 719.7,679.7 721.4,678.4 723,677.5 724.6,676.8 726.2,676.9 727.8,677.3 729.4,678.1 731,679.3 732.7,681.1 734.3,683.2 735.9,685.5 737.5,688.2 739.1,691.2 740.7,694.5 742.3,698 744,701.4 745.6,704.8 747.2,708.2 748.8,711.8 750.4,715.4 752,718.9 753.7,722.3 755.3,725.5 756.9,728.7 758.5,731.8 760.1,734.3 761.7,735.8 763.3,736.9 765,737.4 766.6,737.1 768.2,736.4 769.8,735.4 771.4,733.9 773,731.4 774.6,728.2 776.3,722.8 777.9,715.2 779.5,706.3 781.1,697.3 782.7,688.5 784.3,679.1 786,669.7 787.6,660.1 789.2,650.6 790.8,641.2 792.4,631.7 794,622.6 795.6,613.7 797.3,605.1 798.9,596.7 800.5,588.8 802.1,581.1 803.7,573.9 805.3,567.2 806.9,560.8 808.6,555.1 810.2,550 811.8,545.5 813.4,542.9 815,541.5 816.6,542.5 818.3,545.9 819.9,550 821.5,556.1 823.1,563.1 824.7,568.8 826.3,574.2 827.9,581.6 829.6,591.1 831.2,602.6 832.8,616.7 834.4,630.8 836,646.3 837.6,660.6 839.2,677.2 840.9,694.1 842.5,711.1 844.1,729 845.7,746.8 847.3,764.9 848.9,782.7 850.6,801.1 852.2,811.9 853.8,811.9 855.4,811.9 857,811.8 858.6,811.8 860.2,811.7 861.9,811.7 863.5,811.6 865.1,811.5 866.7,811.5 868.3,811.4 869.9,811.3 871.5,811.2 873.2,811.1 874.8,811 876.4,811 878,810.9 879.6,810.8 881.2,810.8 882.9,810.8 884.5,810.8 886.1,810.8 887.7,810.8 889.3,810.8 890.9,810.9 892.5,810.9 894.2,811 895.8,811.1 897.4,811.2 899,811.2 900.6,811.3 902.2,811.4 903.8,811.5 905.5,811.6 907.1,811.6 908.7,811.7 910.3,811.8 911.9,811.8 913.5,811.8 915.2,811.9 916.8,811.9 918.4,811.9 920,811.9 921.6,812 923.2,812 924.8,813.3 926.5,813.3 928.1,813.3 929.7,813.3 931.3,813.3 932.9,813.3 934.5,813.3 936.1,813.3 937.8,813.3 939.4,813.3 941,813.3 942.6,813.3 944.2,813.3 945.8,813.3 947.5,813.3 949.1,813.3 950.7,813.3" stroke="#FAAC4E" marker-start="url(#mo)" marker-mid="url(#mo)" marker-end="url(#mo)"/>
<polyline points="629.3,813.9 630.9,813.9 632.5,813.9 634.1,813.9 635.8,813.9 637.4,813.9 639,813.9 640.6,813.9 642.2,813.9 643.8,813.9 645.4,813.9 647.1,813.9 648.7,813.9 650.3,813.9 651.9,813.9 653.5,813.9 655.1,813.9 656.8,813.9 658.4,813.9 660,813.9 661.6,813.9 663.2,813.9 664.8,813.9 666.4,813.9 668.1,813.9 669.7,813.9 671.3,813.9 672.9,813.9 674.5,813.9 676.1,812 677.8,811.1 679.4,809.2 681,807.2 682.6,804.6 684.2,801.6 685.8,798.2 687.4,794.3 689.1,790 690.7,785.4 692.3,780.4 693.9,774.9 695.5,769.3 697.1,763.6 698.7,757.7 700.4,751.6 702,745.5 703.6,739.2 705.2,733.3 706.8,728 708.4,723 710,718.1 711.7,713.2 713.3,708.6 714.9,704.1 716.5,699.9 718.1,696.2 719.7,692.9 721.4,689.9 723,687.5 724.6,685.6 726.2,683.8 727.8,682.5 729.4,682 731,682.6 732.7,683.3 734.3,684.2 735.9,685.6 737.5,687.4 739.1,689.3 740.7,691.6 742.3,694.2 744,697 745.6,699.9 747.2,702.8 748.8,705.6 750.4,708.5 752,711.5 753.7,714.6 755.3,717.5 756.9,720.2 758.5,722.9 760.1,725.6 761.7,727.9 763.3,729.3 765,730.4 766.6,730.9 768.2,730.7 769.8,730.1 771.4,729.3 773,728.1 774.6,726.1 776.3,723.3 777.9,719.3 779.5,712.9 781.1,705.1 782.7,696.8 784.3,688.8 786,680.3 787.6,671.6 789.2,662.9 790.8,654.2 792.4,645.5 794,636.8 795.6,628.2 797.3,619.9 798.9,611.8 800.5,604 802.1,596.4 803.7,589.1 805.3,582.2 806.9,575.7 808.6,569.6 810.2,563.8 811.8,558.7 813.4,554.1 815,550 816.6,547.7 818.3,546.4 819.9,547.6 821.5,551.1 823.1,555.2 824.7,560.1 826.3,566.1 827.9,572.3 829.6,578.9 831.2,586.8 832.8,596.4 834.4,606.8 836,617.9 837.6,631.6 839.2,645.9 840.9,658.1 842.5,672.5 844.1,689.9 845.7,707.8 847.3,725.1 848.9,741.7 850.6,758.7 852.2,779 853.8,798.3 855.4,811.9 857,811.8 858.6,811.8 860.2,811.7 861.9,811.7 863.5,811.6 865.1,811.5 866.7,811.5 868.3,811.4 869.9,811.3 871.5,811.2 873.2,811.1 874.8,811 876.4,811 878,810.9 879.6,810.8 881.2,810.8 882.9,810.8 884.5,810.8 886.1,810.8 887.7,810.8 889.3,810.8 890.9,810.9 892.5,810.9 894.2,811 895.8,811.1 897.4,811.2 899,811.2 900.6,811.3 902.2,811.4 903.8,811.5 905.5,811.6 907.1,811.6 908.7,811.7 910.3,811.8 911.9,811.8 913.5,811.8 915.2,811.9 916.8,811.9 918.4,811.9 920,811.9 921.6,812 923.2,812 924.8,813.3 926.5,813.3 928.1,813.3 929.7,813.3 931.3,813.3 932.9,813.3 934.5,813.3 936.1,813.3 937.8,813.3 939.4,813.3 941,813.3 942.6,813.3 944.2,813.3 945.8,813.3 947.5,813.3 949.1,813.3 950.7,813.3" stroke="#EE7880" marker-start="url(#mr)" marker-mid="url(#mr)" marker-end="url(#mr)"/>
<polyline points="629.3,813.9 630.9,813.9 632.5,813.9 634.1,813.9 635.8,813.9 637.4,813.9 639,813.9 640.6,813.9 642.2,813.9 643.8,813.9 645.4,813.9 647.1,813.9 648.7,813.9 650.3,813.9 651.9,813.9 653.5,813.9 655.1,813.9 656.8,813.9 658.4,813.9 660,813.9 661.6,813.9 663.2,813.9 664.8,813.9 666.4,813.9 668.1,813.9 669.7,813.9 671.3,813.9 672.9,813.9 674.5,813.9 676.1,813.9 677.8,813.9 679.4,813.9 681,813.9 682.6,813.9 684.2,813.9 685.8,813.9 687.4,812 689.1,811.4 690.7,809.3 692.3,806.5 693.9,802.8 695.5,798.1 697.1,792.3 698.7,786.3 700.4,780.1 702,773.5 703.6,766.8 705.2,759.7 706.8,752.5 708.4,745.4 710,738.3 711.7,731.2 713.3,724.1 714.9,717.4 716.5,710.9 718.1,704.7 719.7,699.2 721.4,694.3 723,689.9 724.6,686.3 726.2,683.3 727.8,680.8 729.4,679.1 731,677.9 732.7,677.7 734.3,678.1 735.9,678.9 737.5,680.1 739.1,681.9 740.7,683.9 742.3,686.3 744,689.1 745.6,692.2 747.2,695.4 748.8,698.7 750.4,702 752,705.2 753.7,708.6 755.3,712.1 756.9,715.4 758.5,718.5 760.1,721.6 761.7,724.6 763.3,726.9 765,728.4 766.6,729.4 768.2,729.6 769.8,729.3 771.4,728.6 773,727.7 774.6,726.2 776.3,723.9 777.9,720.9 779.5,716.1 781.1,709.2 782.7,701.3 784.3,693.1 786,685.2 787.6,676.8 789.2,668.3 790.8,659.7 792.4,651.1 794,642.6 795.6,634.1 797.3,625.7 798.9,617.6 800.5,609.7 802.1,602.1 803.7,594.7 805.3,587.6 806.9,580.9 808.6,574.6 810.2,568.6 811.8,563 813.4,558 815,553.5 816.6,549.7 818.3,547.6 819.9,546.4 821.5,547.4 823.1,550.1 824.7,553.5 826.3,558 827.9,563.8 829.6,570.5 831.2,578.4 832.8,587.9 834.4,598.2 836,609 837.6,620.3 839.2,634.8 840.9,648.3 842.5,661.4 844.1,678.6 845.7,697.6 847.3,715.3 848.9,732.6 850.6,749.4 852.2,767.6 853.8,786.7 855.4,802 857,811.7 858.6,811.7 860.2,811.6 861.9,811.5 863.5,811.4 865.1,811.3 866.7,811.2 868.3,811.1 869.9,811 871.5,810.8 873.2,810.7 874.8,810.6 876.4,810.5 878,810.3 879.6,810.3 881.2,810.2 882.9,810.2 884.5,810.1 886.1,810.1 887.7,810.2 889.3,810.2 890.9,810.3 892.5,810.4 894.2,810.5 895.8,810.6 897.4,810.7 899,810.9 900.6,811 902.2,811.1 903.8,811.2 905.5,811.4 907.1,811.5 908.7,811.6 910.3,811.6 911.9,811.7 913.5,811.8 915.2,811.8 916.8,811.9 918.4,811.9 920,811.9 921.6,811.9 923.2,812 924.8,813.3 926.5,813.3 928.1,813.3 929.7,813.3 931.3,813.3 932.9,813.3 934.5,813.3 936.1,813.3 937.8,813.3 939.4,813.3 941,813.3 942.6,813.3 944.2,813.3 945.8,813.3 947.5,813.3 949.1,813.3 950.7,813.3" stroke="#5595D6" marker-start="url(#mb)" marker-mid="url(#mb)" marker-end="url(#mb)"/>
<polyline points="629.3,813.9 630.9,813.9 632.5,813.9 634.1,813.9 635.8,813.9 637.4,813.9 639,813.9 640.6,813.9 642.2,813.9 643.8,813.9 645.4,813.9 647.1,813.9 648.7,813.9 650.3,813.9 651.9,813.9 653.5,813.9 655.1,813.9 656.8,813.9 658.4,813.9 660,813.9 661.6,813.9 663.2,813.9 664.8,813.9 666.4,813.9 668.1,813.9 669.7,813.9 671.3,813.9 672.9,813.9 674.5,813.9 676.1,813.9 677.8,813.9 679.4,813.9 681,813.9 682.6,813.9 684.2,813.9 685.8,813.9 687.4,813.9 689.1,813.9 690.7,813.9 692.3,812 693.9,810.8 695.5,808.1 697.1,804.4 698.7,800 700.4,794.7 702,789 703.6,782.6 705.2,775.8 706.8,768.9 708.4,761.8 710,754.8 711.7,748.2 713.3,741.8 714.9,735.3 716.5,728.8 718.1,722.7 719.7,716.7 721.4,711.1 723,706 724.6,701.1 726.2,696.7 727.8,692.9 729.4,689.6 731,687.3 732.7,685.5 734.3,685.5 735.9,686 737.5,686.8 739.1,688 740.7,689.7 742.3,691.5 744,693.6 745.6,696.1 747.2,698.7 748.8,701.5 750.4,704.2 752,706.9 753.7,709.7 755.3,712.6 756.9,715.4 758.5,718.1 760.1,720.7 761.7,723.3 763.3,725.6 765,727.3 766.6,728.3 768.2,729 769.8,728.9 771.4,728.4 773,727.6 774.6,726.5 776.3,724.6 777.9,721.9 779.5,718.1 781.1,711.9 782.7,704.2 784.3,696 786,688.1 787.6,679.7 789.2,671.1 790.8,662.5 792.4,653.9 794,645.3 795.6,636.7 797.3,628.2 798.9,620.1 800.5,612.1 802.1,604.4 803.7,597 805.3,589.9 806.9,583.1 808.6,576.8 810.2,570.8 811.8,565.2 813.4,560.3 815,555.8 816.6,552.2 818.3,550.3 819.9,549.5 821.5,550.8 823.1,553.1 824.7,555.6 826.3,558.4 827.9,562.1 829.6,567.6 831.2,574.3 832.8,582.2 834.4,591.4 836,602.3 837.6,612.3 839.2,625.3 840.9,639 842.5,652.2 844.1,668.7 845.7,688.5 847.3,707.1 848.9,724.9 850.6,742.6 852.2,760.2 853.8,777.9 855.4,795.7 857,809.3 858.6,811.7 860.2,811.6 861.9,811.5 863.5,811.4 865.1,811.3 866.7,811.2 868.3,811.1 869.9,811 871.5,810.8 873.2,810.7 874.8,810.6 876.4,810.5 878,810.3 879.6,810.3 881.2,810.2 882.9,810.2 884.5,810.1 886.1,810.1 887.7,810.2 889.3,810.2 890.9,810.3 892.5,810.4 894.2,810.5 895.8,810.6 897.4,810.7 899,810.9 900.6,811 902.2,811.1 903.8,811.2 905.5,811.4 907.1,811.5 908.7,811.6 910.3,811.6 911.9,811.7 913.5,811.8 915.2,811.8 916.8,811.9 918.4,811.9 920,811.9 921.6,811.9 923.2,812 924.8,813.3 926.5,813.3 928.1,813.3 929.7,813.3 931.3,813.3 932.9,813.3 934.5,813.3 936.1,813.3 937.8,813.3 939.4,813.3 941,813.3 942.6,813.3 944.2,813.3 945.8,813.3 947.5,813.3 949.1,813.3 950.7,813.3" stroke="#99D8B5" marker-start="url(#mg)" marker-mid="url(#mg)" marker-end="url(#mg)"/>
<polyline points="629.3,813.9 630.9,813.9 632.5,813.9 634.1,813.9 635.8,813.9 637.4,813.9 639,813.9 640.6,813.9 642.2,813.9 643.8,813.9 645.4,813.9 647.1,813.9 648.7,813.9 650.3,813.9 651.9,813.9 653.5,813.9 655.1,813.9 656.8,813.9 658.4,813.9 660,813.9 661.6,813.9 663.2,813.9 664.8,813.9 666.4,813.9 668.1,813.9 669.7,813.9 671.3,813.9 672.9,813.9 674.5,813.9 676.1,813.9 677.8,813.9 679.4,813.9 681,813.9 682.6,812 684.2,811.4 685.8,809.4 687.4,807.1 689.1,803.8 690.7,800 692.3,795.4 693.9,790.3 695.5,785 697.1,779.4 698.7,773.6 700.4,767.7 702,761.8 703.6,755.8 705.2,749.7 706.8,743.3 708.4,737 710,730.8 711.7,724.6 713.3,718.9 714.9,713.4 716.5,708.1 718.1,703.5 719.7,699.4 721.4,695.8 723,692.6 724.6,689.9 726.2,687.4 727.8,685.4 729.4,684.3 731,683.5 732.7,683.4 734.3,683.8 735.9,684.4 737.5,685.3 739.1,686.7 740.7,688.4 742.3,690.3 744,692.5 745.6,695 747.2,697.6 748.8,700.3 750.4,702.9 752,705.5 753.7,708.3 755.3,711.1 756.9,713.8 758.5,716.4 760.1,718.9 761.7,721.4 763.3,723.7 765,725.2 766.6,726.3 768.2,726.9 769.8,726.8 771.4,726.3 773,725.5 774.6,724.5 776.3,722.8 777.9,720.3 779.5,717 781.1,711.6 782.7,704.5 784.3,696.5 786,688.5 787.6,680.6 789.2,672.2 790.8,663.8 792.4,655.4 794,646.9 795.6,638.4 797.3,630 798.9,621.8 800.5,613.8 802.1,606 803.7,598.5 805.3,591.2 806.9,584.2 808.6,577.6 810.2,571.4 811.8,565.4 813.4,559.9 815,554.9 816.6,550.5 818.3,546.6 819.9,544.4 821.5,543.1 823.1,543.5 824.7,545.3 826.3,547.7 827.9,551 829.6,555.6 831.2,561.2 832.8,568.8 834.4,576.7 836,587 837.6,600.8 839.2,614.5 840.9,625.4 842.5,636.3 844.1,650.2 845.7,668.9 847.3,688.2 848.9,706.4 850.6,724 852.2,741.8 853.8,758.3 855.4,774.2 857,792.6 858.6,808.7 860.2,811.5 861.9,811.4 863.5,811.2 865.1,811.1 866.7,810.9 868.3,810.8 869.9,810.6 871.5,810.4 873.2,810.3 874.8,810.1 876.4,809.9 878,809.8 879.6,809.7 881.2,809.6 882.9,809.5 884.5,809.5 886.1,809.5 887.7,809.6 889.3,809.6 890.9,809.7 892.5,809.8 894.2,810 895.8,810.1 897.4,810.3 899,810.5 900.6,810.7 902.2,810.8 903.8,811 905.5,811.1 907.1,811.3 908.7,811.4 910.3,811.5 911.9,811.6 913.5,811.7 915.2,811.8 916.8,811.8 918.4,811.9 920,811.9 921.6,811.9 923.2,811.9 924.8,813.3 926.5,813.3 928.1,813.3 929.7,813.3 931.3,813.3 932.9,813.3 934.5,813.3 936.1,813.3 937.8,813.3 939.4,813.3 941,813.3 942.6,813.3 944.2,813.3 945.8,813.3 947.5,813.3 949.1,813.3 950.7,813.3" stroke="#BDBDBD" marker-start="url(#mk)" marker-mid="url(#mk)" marker-end="url(#mk)"/>
</g>
<g stroke="#000" stroke-width="1.3" fill="none">
<rect x="606" y="512.7" width="371" height="299.3"/>
<path d="M659 812v-10.5M712 812v-10.5M765 812v-10.5M818 812v-10.5M871 812v-10.5M924 812v-10.5M622 812v-5.3M631.3 812v-5.3M637.9 812v-5.3M643 812v-5.3M647.2 812v-5.3M650.8 812v-5.3M653.9 812v-5.3M656.6 812v-5.3M675 812v-5.3M684.3 812v-5.3M690.9 812v-5.3M696 812v-5.3M700.2 812v-5.3M703.8 812v-5.3M706.9 812v-5.3M709.6 812v-5.3M728 812v-5.3M737.3 812v-5.3M743.9 812v-5.3M749 812v-5.3M753.2 812v-5.3M756.8 812v-5.3M759.9 812v-5.3M762.6 812v-5.3M781 812v-5.3M790.3 812v-5.3M796.9 812v-5.3M802 812v-5.3M806.2 812v-5.3M809.8 812v-5.3M812.9 812v-5.3M815.6 812v-5.3M834 812v-5.3M843.3 812v-5.3M849.9 812v-5.3M855 812v-5.3M859.2 812v-5.3M862.8 812v-5.3M865.9 812v-5.3M868.6 812v-5.3M887 812v-5.3M896.3 812v-5.3M902.9 812v-5.3M908 812v-5.3M912.2 812v-5.3M915.8 812v-5.3M918.9 812v-5.3M921.6 812v-5.3M940 812v-5.3M949.3 812v-5.3M955.9 812v-5.3M961 812v-5.3M965.2 812v-5.3M968.8 812v-5.3M971.9 812v-5.3M974.6 812v-5.3M606 799.5h4.8M606 787.1h10.5M606 774.6h4.8M606 762.1h10.5M606 749.6h4.8M606 737.2h10.5M606 724.7h4.8M606 712.2h10.5M606 699.8h4.8M606 687.3h10.5M606 674.8h4.8M606 662.4h10.5M606 649.9h4.8M606 637.4h10.5M606 624.9h4.8M606 612.5h10.5M606 600h4.8M606 587.5h10.5M606 575.1h4.8M606 562.6h10.5M606 550.1h4.8M606 537.6h10.5M606 525.2h4.8"/>
</g>
<g stroke="#000" stroke-width="1.3">
<line x1="606" y1="457.2" x2="606" y2="512.7"/>
<line x1="712" y1="457.2" x2="712" y2="812"/>
<line x1="765" y1="457.2" x2="765" y2="812"/>
<line x1="855" y1="457.2" x2="855" y2="812"/>
<line x1="977" y1="457.2" x2="977" y2="512.7"/>
<line x1="606" y1="500.5" x2="977" y2="500.5"/>
</g>
<use href="#ar" x="606" y="500.5"/>
<use href="#ar" transform="translate(712 500.5) scale(-1 1)"/>
<use href="#ar" x="712" y="500.5"/>
<use href="#ar" transform="translate(765 500.5) scale(-1 1)"/>
<use href="#ar" x="765" y="500.5"/>
<use href="#ar" transform="translate(855 500.5) scale(-1 1)"/>
<use href="#ar" x="855" y="500.5"/>
<use href="#ar" transform="translate(977 500.5) scale(-1 1)"/>
<rect x="619.8" y="461.9" width="76.5" height="17.2" fill="#fff"/>
<rect x="625.8" y="480.3" width="64.5" height="15.4" fill="#fff"/>
<text x="658" y="475.5" font-size="14" text-anchor="middle">Micro - pores</text>
<text x="658" y="492.8" font-size="14" text-anchor="middle">（＜0.1μm）</text>
<rect x="702.7" y="461.9" width="69.6" height="17.2" fill="#fff"/>
<rect x="703.7" y="480.3" width="67.6" height="15.4" fill="#fff"/>
<text x="737.5" y="475.5" font-size="14" text-anchor="middle">Mini - pores</text>
<text x="737.5" y="492.8" font-size="14" text-anchor="middle">（0.1~1μm）</text>
<rect x="775" y="461.9" width="74" height="17.2" fill="#fff"/>
<rect x="778.5" y="480.3" width="67" height="15.4" fill="#fff"/>
<text x="812" y="475.5" font-size="14" text-anchor="middle">Mcso - pores</text>
<text x="812" y="492.8" font-size="14" text-anchor="middle">（1~50μm）</text>
<rect x="877.7" y="461.9" width="80" height="17.2" fill="#fff"/>
<rect x="885.5" y="480.3" width="64.5" height="15.4" fill="#fff"/>
<text x="917.7" y="475.5" font-size="14" text-anchor="middle">Macro - pores</text>
<text x="917.7" y="492.8" font-size="14" text-anchor="middle">（＞50μm）</text>
<rect x="651.7" y="521.2" width="89" height="16.4" fill="#fff"/>
<polyline points="616.5,529.8 632.9,529.8 648,529.8" fill="none" stroke="#FAAC4E" stroke-width="1.3" stroke-dasharray="1.4 2.3" marker-mid="url(#mo)"/>
<text x="652.2" y="533.9" font-size="14">After saturation</text>
<rect x="651.7" y="538.5" width="121" height="16.4" fill="#fff"/>
<polyline points="616.5,547.1 632.9,547.1 648,547.1" fill="none" stroke="#EE7880" stroke-width="1.3" stroke-dasharray="1.4 2.3" marker-mid="url(#mr)"/>
<text x="652.2" y="551.2" font-size="14">10 days of immersion</text>
<rect x="651.7" y="555.9" width="121" height="16.4" fill="#fff"/>
<polyline points="616.5,564.5 632.9,564.5 648,564.5" fill="none" stroke="#5595D6" stroke-width="1.3" stroke-dasharray="1.4 2.3" marker-mid="url(#mb)"/>
<text x="652.2" y="568.6" font-size="14">20 days of immersion</text>
<rect x="651.7" y="573.2" width="121" height="16.4" fill="#fff"/>
<polyline points="616.5,581.8 632.9,581.8 648,581.8" fill="none" stroke="#99D8B5" stroke-width="1.3" stroke-dasharray="1.4 2.3" marker-mid="url(#mg)"/>
<text x="652.2" y="585.9" font-size="14">30 days of immersion</text>
<rect x="651.7" y="590.5" width="121" height="16.4" fill="#fff"/>
<polyline points="616.5,599.1 632.9,599.1 648,599.1" fill="none" stroke="#BDBDBD" stroke-width="1.3" stroke-dasharray="1.4 2.3" marker-mid="url(#mk)"/>
<text x="652.2" y="603.2" font-size="14">40 days of immersion</text>
<g font-size="17" font-weight="bold" text-anchor="end">
<text x="593.5" y="817.3">0.00</text>
<text x="593.5" y="792.4">0.02</text>
<text x="593.5" y="767.4">0.04</text>
<text x="593.5" y="742.5">0.06</text>
<text x="593.5" y="717.5">0.08</text>
<text x="593.5" y="692.6">0.10</text>
<text x="593.5" y="667.6">0.12</text>
<text x="593.5" y="642.7">0.14</text>
<text x="593.5" y="617.8">0.16</text>
<text x="593.5" y="592.8">0.18</text>
<text x="593.5" y="567.9">0.20</text>
<text x="593.5" y="542.9">0.22</text>
<text x="593.5" y="518">0.24</text>
</g>
<g font-size="17" font-weight="bold" text-anchor="middle">
<text x="605.2" y="837.2">0.001</text>
<text x="658.2" y="837.2">0.01</text>
<text x="711.2" y="837.2">0.1</text>
<text x="764.2" y="837.2">1</text>
<text x="817.2" y="837.2">10</text>
<text x="870.2" y="837.2">100</text>
<text x="923.2" y="837.2">1000</text>
<text x="976.2" y="837.2">10000</text>
</g>
<text x="791.4" y="867.2" font-size="17" font-weight="bold" text-anchor="middle">Pore size / μm</text>
<text transform="translate(554.7 662.1) rotate(-90)" font-size="17" font-weight="bold" text-anchor="middle">Pore size distribution / %</text>
<text x="787" y="892.2" font-size="17" text-anchor="middle">(d) Alkaline salt solution</text>
</g>
</svg>
</body></html>
